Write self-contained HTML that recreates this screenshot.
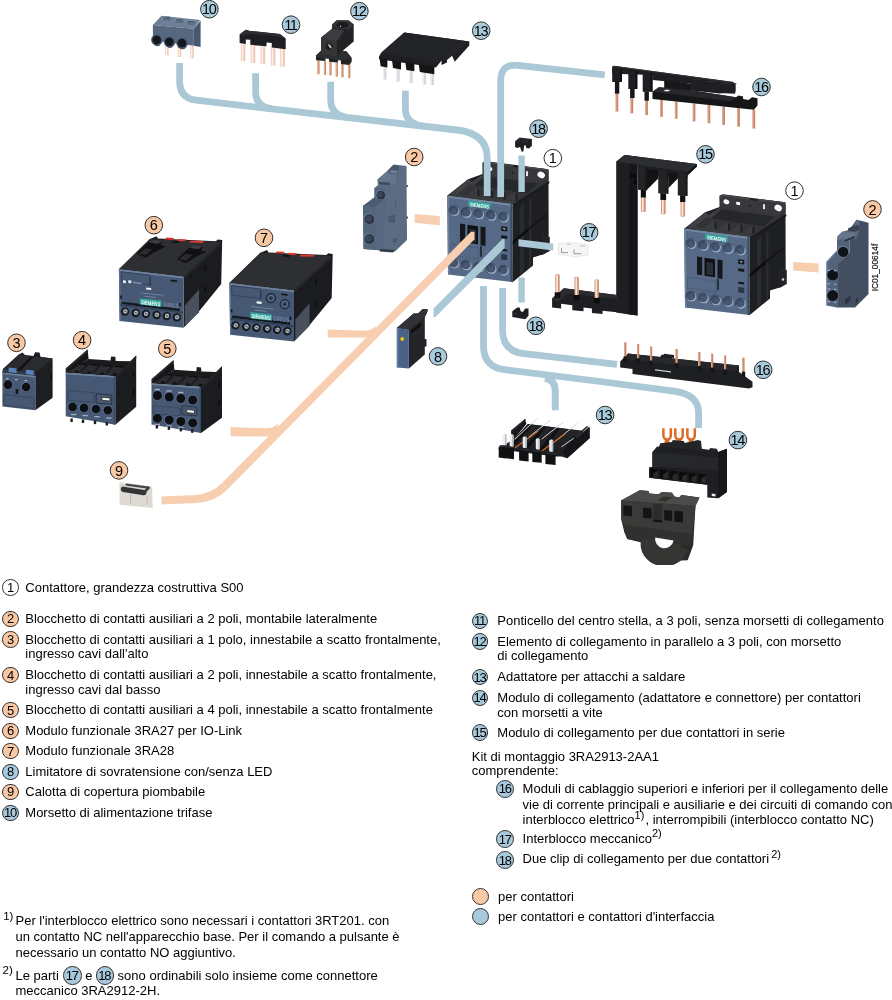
<!DOCTYPE html>
<html><head><meta charset="utf-8"><title>Contattori SIRIUS - accessori</title>
<style>
html,body{margin:0;padding:0;background:#fff;overflow:hidden;}
body{width:892px;height:1000px;position:relative;overflow:hidden;font-family:"Liberation Sans",sans-serif;color:#000;}
.t{position:absolute;white-space:nowrap;line-height:15px;}
.c{position:absolute;box-sizing:border-box;border:1px solid #333;border-radius:50%;text-align:center;white-space:nowrap;color:#000;}
.c{line-height:1 !important;display:flex;align-items:center;justify-content:center;}
.s{font-size:11px;position:relative;top:-5.5px;line-height:0;}
svg{position:absolute;left:0;top:0;}
#w{position:absolute;left:0;top:0;width:892px;height:1000px;will-change:transform;}
</style></head><body><div id="w">
<svg width="892" height="565" viewBox="0 0 892 565" font-family="Liberation Sans, sans-serif">
<g transform="translate(-237,-33)">
<polygon points="684.2,228.7 705.2,212.2 719.5,207.0 719.5,195.5 723.0,194.2 785.5,202.3 785.7,283.8 781.2,287.1 770.0,290.5 770.0,298.4 749.2,315.5 749.5,237.0" fill="#1e1f22" />
<polygon points="684.7,228.7 705.6,211.9 708.9,214.9 720.4,207.2 774.8,215.3 786.3,213.9 751.3,236.8" fill="#333437" />
<polygon points="711.6,218.6 721.7,209.5 774.2,216.5 764.1,226.4" fill="#26272a" />
<polygon points="684.7,228.7 705.6,211.9 708.9,214.9 720.4,207.2 720.4,209.5 710.3,218.2 706.9,216.9 690.8,229.8" fill="#404145" />
<polygon points="704.9,228.1 712.7,221.1 714.6,221.6 714.6,229.1" fill="#3b3c40" />
<polygon points="714.6,221.6 716.3,222.7 716.3,229.4 714.6,229.1" fill="#1b1c1e" />
<polygon points="718.3,229.7 726.1,222.7 728.0,223.2 728.0,230.7" fill="#3b3c40" />
<polygon points="728.0,223.2 729.8,224.3 729.8,231.0 728.0,230.7" fill="#1b1c1e" />
<polygon points="730.9,231.1 738.7,224.1 740.5,224.7 740.5,232.2" fill="#3b3c40" />
<polygon points="740.5,224.7 742.3,225.8 742.3,232.5 740.5,232.2" fill="#1b1c1e" />
<polygon points="743.0,232.6 750.8,225.6 752.6,226.2 752.6,233.7" fill="#3b3c40" />
<polygon points="752.6,226.2 754.4,227.2 754.4,234.0 752.6,233.7" fill="#1b1c1e" />
<polygon points="719.7,197.1 723.1,194.7 750.0,198.2 750.6,200.1 757.4,200.9 758.0,199.1 784.3,202.2 785.6,204.5 785.6,213.5 774.2,216.2 720.4,208.1" fill="#37383b" />
<polygon points="719.7,197.1 723.1,194.7 750.0,198.2 749.7,199.3 723.3,196.0 720.8,197.9" fill="#4a4b4f" />
<polygon points="758.0,199.1 784.3,202.2 785.6,204.5 784.4,203.8 783.6,203.3 758.3,200.2" fill="#4a4b4f" />
<ellipse cx="726.4" cy="201.8" rx="3.0" ry="2.3" fill="#fff" transform="rotate(25 726.4 201.8)"/>
<polygon points="736.2,201.7 740.0,202.2 740.0,205.2 736.2,204.6" fill="#fff" />
<circle cx="750.0" cy="206.1" r="0.8" fill="#111" />
<polygon points="763.1,204.1 765.0,204.4 765.0,209.2 763.1,208.9" fill="#f0f0f0" />
<ellipse cx="778.2" cy="207.9" rx="3.9" ry="3.1" fill="#fff" transform="rotate(30 778.2 207.9)"/>
<polygon points="751.3,236.8 786.3,213.9 786.3,216.2 751.3,239.1" fill="#1a1b1d" />
<polygon points="757.0,240.0 761.0,236.5 761.0,304.0 757.0,308.0" fill="#2a2b2e" />
<polygon points="766.0,233.0 768.5,231.0 768.5,298.0 766.0,300.5" fill="#2a2b2e" />
<polygon points="749.5,274.0 765.5,260.5 765.5,264.0 749.5,277.5" fill="#0c0d0e" />
<polygon points="765.5,260.5 785.0,246.0 785.0,248.0 765.5,263.0" fill="#141517" />
<polygon points="779.0,268.0 786.8,270.0 786.8,284.0 779.0,288.0" fill="#232426" />
<circle cx="783.0" cy="279.5" r="1.2" fill="#ddd" />
<polygon points="684.2,228.7 749.5,237.0 749.2,315.0 685.0,307.5" fill="#566987" />
<polygon points="684.2,228.7 749.5,237.0 753.5,234.3 688.5,226.0" fill="#393b40" />
<polygon points="684.2,228.7 749.5,237.0 749.5,239.0 684.2,230.6" fill="#7389a3" />
<polygon points="684.2,228.7 686.0,229.0 686.7,307.7 685.0,307.5" fill="#6a7f99" />
<polygon points="747.6,236.8 749.5,237.0 749.2,315.0 747.4,314.6" fill="#3b4a5f" />
<polygon points="705.2,233.6 727.7,236.4 727.7,241.8 705.2,239.0" fill="#36a79d" />
<text x="716.5" y="240.6" font-size="5.4" font-weight="bold" fill="#f2fbfa" text-anchor="middle" transform="rotate(7.2 716.5 239)" textLength="19.5" lengthAdjust="spacingAndGlyphs">SIEMENS</text>
<circle cx="691.0" cy="243.7" r="5.5" fill="#34415a" />
<circle cx="691.5" cy="244.2" r="5.0" fill="#93a7c2" />
<circle cx="690.8" cy="243.3" r="4.4" fill="#3c4a64" />
<circle cx="691.3" cy="244.2" r="3.0" fill="#475772" />
<circle cx="703.3" cy="245.5" r="5.5" fill="#34415a" />
<circle cx="703.8" cy="246.1" r="5.0" fill="#93a7c2" />
<circle cx="703.0" cy="245.2" r="4.4" fill="#3c4a64" />
<circle cx="703.6" cy="246.0" r="3.0" fill="#475772" />
<circle cx="715.7" cy="247.0" r="5.5" fill="#34415a" />
<circle cx="716.2" cy="247.6" r="5.0" fill="#93a7c2" />
<circle cx="715.5" cy="246.7" r="4.4" fill="#3c4a64" />
<circle cx="716.0" cy="247.5" r="3.0" fill="#475772" />
<circle cx="728.2" cy="248.5" r="5.5" fill="#34415a" />
<circle cx="728.7" cy="249.1" r="5.0" fill="#93a7c2" />
<circle cx="728.0" cy="248.2" r="4.4" fill="#3c4a64" />
<circle cx="728.5" cy="249.0" r="3.0" fill="#475772" />
<circle cx="740.5" cy="250.2" r="5.5" fill="#34415a" />
<circle cx="741.0" cy="250.8" r="5.0" fill="#93a7c2" />
<circle cx="740.2" cy="249.8" r="4.4" fill="#3c4a64" />
<circle cx="740.8" cy="250.7" r="3.0" fill="#475772" />
<circle cx="691.0" cy="296.2" r="5.5" fill="#34415a" />
<circle cx="691.5" cy="296.8" r="5.0" fill="#93a7c2" />
<circle cx="690.8" cy="295.8" r="4.4" fill="#3c4a64" />
<circle cx="691.3" cy="296.7" r="3.0" fill="#475772" />
<circle cx="703.3" cy="298.0" r="5.5" fill="#34415a" />
<circle cx="703.8" cy="298.6" r="5.0" fill="#93a7c2" />
<circle cx="703.0" cy="297.6" r="4.4" fill="#3c4a64" />
<circle cx="703.6" cy="298.5" r="3.0" fill="#475772" />
<circle cx="715.7" cy="300.0" r="5.5" fill="#34415a" />
<circle cx="716.2" cy="300.6" r="5.0" fill="#93a7c2" />
<circle cx="715.5" cy="299.6" r="4.4" fill="#3c4a64" />
<circle cx="716.0" cy="300.5" r="3.0" fill="#475772" />
<circle cx="728.2" cy="301.5" r="5.5" fill="#34415a" />
<circle cx="728.7" cy="302.1" r="5.0" fill="#93a7c2" />
<circle cx="728.0" cy="301.1" r="4.4" fill="#3c4a64" />
<circle cx="728.5" cy="302.0" r="3.0" fill="#475772" />
<circle cx="740.5" cy="303.3" r="5.5" fill="#34415a" />
<circle cx="741.0" cy="303.9" r="5.0" fill="#93a7c2" />
<circle cx="740.2" cy="302.9" r="4.4" fill="#3c4a64" />
<circle cx="740.8" cy="303.8" r="3.0" fill="#475772" />
<polygon points="697.0,256.6 702.2,257.3 702.2,275.3 697.0,274.6" fill="#15171a" />
<polygon points="704.5,257.8 715.0,259.2 715.0,277.2 704.5,275.8" fill="#0f1012" />
<polygon points="706.5,262.0 713.0,262.9 713.0,275.5 706.5,274.6" fill="#2a2f36" />
<polygon points="717.5,259.5 722.5,260.2 722.5,279.0 717.5,278.3" fill="#15171a" />
<polygon points="717.0,279.0 719.0,279.3 719.0,290.0 717.0,289.7" fill="#25303d" />
<polygon points="687.5,277.0 716.0,281.0 716.0,292.0 687.5,288.0" fill="none" stroke="#47586e" stroke-width="0.7"/>
<polygon points="738.2,259.3 744.2,260.1 744.2,264.6 738.2,263.8" fill="#15171a" />
<polygon points="739.4,260.8 743.0,261.3 741.2,263.6" fill="#8296ae" />
<polygon points="738.2,268.3 744.2,269.1 744.2,271.9 738.2,271.1" fill="#15171a" />
<polygon points="738.2,281.6 744.2,282.4 744.2,284.6 738.2,283.8" fill="#15171a" />
<polygon points="738.2,287.0 744.2,287.8 744.2,293.2 738.2,292.4" fill="#2a3646" />
</g>
<path d="M179.6,63 V81 Q179.6,98.3 196,100.2 L457,130 Q487.2,133.5 487.2,158 V196" fill="none" stroke="#aac8d5" stroke-width="6.8" />
<path d="M255.6,73.3 V92 Q255.6,106.3 272,108.9" fill="none" stroke="#aac8d5" stroke-width="6.8" />
<path d="M330.7,81.7 V100 Q330.7,114.5 347,117.4" fill="none" stroke="#aac8d5" stroke-width="6.8" />
<path d="M405.4,90.7 V109 Q405.4,123 422,126" fill="none" stroke="#aac8d5" stroke-width="6.8" />
<path d="M604.8,74.8 L518,65.3 Q500.7,63.4 500.7,81 V197" fill="none" stroke="#aac8d5" stroke-width="6.8" />
<path d="M521.6,155.5 V192" fill="none" stroke="#aac8d5" stroke-width="6.4" />
<path d="M502.6,288 V330 Q502.6,351.3 524,353.6 L617,364.4" fill="none" stroke="#aac8d5" stroke-width="6.8" />
<path d="M483.5,286 V346 Q483.5,367.6 506,369.9 L600,381.5 L674,391.2 Q698.6,394.5 698.6,413 V428" fill="none" stroke="#aac8d5" stroke-width="6.8" />
<path d="M555.3,410.3 V392 Q555.5,380 545,378" fill="none" stroke="#aac8d5" stroke-width="7.0" />
<path d="M521.6,277.5 V302.5" fill="none" stroke="#aac8d5" stroke-width="6.4" />
<polygon points="518.5,239.2 553.2,243.6 553.2,250.4 518.5,246.2" fill="#aac8d5" />
<polygon points="414.6,214.0 439.9,216.0 439.9,225.3 414.6,222.8" fill="#f8ceb0" />
<polygon points="793.2,262.0 818.6,263.6 818.6,272.6 793.2,270.6" fill="#f8ceb0" />
<polygon points="327.7,329.6 372.0,331.0 376.0,337.6 327.7,337.6" fill="#f8ceb0" />
<polygon points="230.6,427.0 274.0,428.5 278.0,436.5 230.6,436.3" fill="#f8ceb0" />
<path d="M364,330.7 Q371.5,331 376,325.5 L374,334 Z" fill="#f8ceb0"/>
<path d="M266,428.2 Q273.5,428.6 278.5,423 L276,432 Z" fill="#f8ceb0"/>
<g transform="translate(0,0)">
<polygon points="684.2,228.7 705.2,212.2 719.5,207.0 719.5,195.5 723.0,194.2 785.5,202.3 785.7,283.8 781.2,287.1 770.0,290.5 770.0,298.4 749.2,315.5 749.5,237.0" fill="#1e1f22" />
<polygon points="684.7,228.7 705.6,211.9 708.9,214.9 720.4,207.2 774.8,215.3 786.3,213.9 751.3,236.8" fill="#333437" />
<polygon points="711.6,218.6 721.7,209.5 774.2,216.5 764.1,226.4" fill="#26272a" />
<polygon points="684.7,228.7 705.6,211.9 708.9,214.9 720.4,207.2 720.4,209.5 710.3,218.2 706.9,216.9 690.8,229.8" fill="#404145" />
<polygon points="704.9,228.1 712.7,221.1 714.6,221.6 714.6,229.1" fill="#3b3c40" />
<polygon points="714.6,221.6 716.3,222.7 716.3,229.4 714.6,229.1" fill="#1b1c1e" />
<polygon points="718.3,229.7 726.1,222.7 728.0,223.2 728.0,230.7" fill="#3b3c40" />
<polygon points="728.0,223.2 729.8,224.3 729.8,231.0 728.0,230.7" fill="#1b1c1e" />
<polygon points="730.9,231.1 738.7,224.1 740.5,224.7 740.5,232.2" fill="#3b3c40" />
<polygon points="740.5,224.7 742.3,225.8 742.3,232.5 740.5,232.2" fill="#1b1c1e" />
<polygon points="743.0,232.6 750.8,225.6 752.6,226.2 752.6,233.7" fill="#3b3c40" />
<polygon points="752.6,226.2 754.4,227.2 754.4,234.0 752.6,233.7" fill="#1b1c1e" />
<polygon points="719.7,197.1 723.1,194.7 750.0,198.2 750.6,200.1 757.4,200.9 758.0,199.1 784.3,202.2 785.6,204.5 785.6,213.5 774.2,216.2 720.4,208.1" fill="#37383b" />
<polygon points="719.7,197.1 723.1,194.7 750.0,198.2 749.7,199.3 723.3,196.0 720.8,197.9" fill="#4a4b4f" />
<polygon points="758.0,199.1 784.3,202.2 785.6,204.5 784.4,203.8 783.6,203.3 758.3,200.2" fill="#4a4b4f" />
<ellipse cx="726.4" cy="201.8" rx="3.0" ry="2.3" fill="#fff" transform="rotate(25 726.4 201.8)"/>
<polygon points="736.2,201.7 740.0,202.2 740.0,205.2 736.2,204.6" fill="#fff" />
<circle cx="750.0" cy="206.1" r="0.8" fill="#111" />
<polygon points="763.1,204.1 765.0,204.4 765.0,209.2 763.1,208.9" fill="#f0f0f0" />
<ellipse cx="778.2" cy="207.9" rx="3.9" ry="3.1" fill="#fff" transform="rotate(30 778.2 207.9)"/>
<polygon points="751.3,236.8 786.3,213.9 786.3,216.2 751.3,239.1" fill="#1a1b1d" />
<polygon points="757.0,240.0 761.0,236.5 761.0,304.0 757.0,308.0" fill="#2a2b2e" />
<polygon points="766.0,233.0 768.5,231.0 768.5,298.0 766.0,300.5" fill="#2a2b2e" />
<polygon points="749.5,274.0 765.5,260.5 765.5,264.0 749.5,277.5" fill="#0c0d0e" />
<polygon points="765.5,260.5 785.0,246.0 785.0,248.0 765.5,263.0" fill="#141517" />
<polygon points="779.0,268.0 786.8,270.0 786.8,284.0 779.0,288.0" fill="#232426" />
<circle cx="783.0" cy="279.5" r="1.2" fill="#ddd" />
<polygon points="684.2,228.7 749.5,237.0 749.2,315.0 685.0,307.5" fill="#566987" />
<polygon points="684.2,228.7 749.5,237.0 753.5,234.3 688.5,226.0" fill="#393b40" />
<polygon points="684.2,228.7 749.5,237.0 749.5,239.0 684.2,230.6" fill="#7389a3" />
<polygon points="684.2,228.7 686.0,229.0 686.7,307.7 685.0,307.5" fill="#6a7f99" />
<polygon points="747.6,236.8 749.5,237.0 749.2,315.0 747.4,314.6" fill="#3b4a5f" />
<polygon points="705.2,233.6 727.7,236.4 727.7,241.8 705.2,239.0" fill="#36a79d" />
<text x="716.5" y="240.6" font-size="5.4" font-weight="bold" fill="#f2fbfa" text-anchor="middle" transform="rotate(7.2 716.5 239)" textLength="19.5" lengthAdjust="spacingAndGlyphs">SIEMENS</text>
<circle cx="691.0" cy="243.7" r="5.5" fill="#34415a" />
<circle cx="691.5" cy="244.2" r="5.0" fill="#93a7c2" />
<circle cx="690.8" cy="243.3" r="4.4" fill="#3c4a64" />
<circle cx="691.3" cy="244.2" r="3.0" fill="#475772" />
<circle cx="703.3" cy="245.5" r="5.5" fill="#34415a" />
<circle cx="703.8" cy="246.1" r="5.0" fill="#93a7c2" />
<circle cx="703.0" cy="245.2" r="4.4" fill="#3c4a64" />
<circle cx="703.6" cy="246.0" r="3.0" fill="#475772" />
<circle cx="715.7" cy="247.0" r="5.5" fill="#34415a" />
<circle cx="716.2" cy="247.6" r="5.0" fill="#93a7c2" />
<circle cx="715.5" cy="246.7" r="4.4" fill="#3c4a64" />
<circle cx="716.0" cy="247.5" r="3.0" fill="#475772" />
<circle cx="728.2" cy="248.5" r="5.5" fill="#34415a" />
<circle cx="728.7" cy="249.1" r="5.0" fill="#93a7c2" />
<circle cx="728.0" cy="248.2" r="4.4" fill="#3c4a64" />
<circle cx="728.5" cy="249.0" r="3.0" fill="#475772" />
<circle cx="740.5" cy="250.2" r="5.5" fill="#34415a" />
<circle cx="741.0" cy="250.8" r="5.0" fill="#93a7c2" />
<circle cx="740.2" cy="249.8" r="4.4" fill="#3c4a64" />
<circle cx="740.8" cy="250.7" r="3.0" fill="#475772" />
<circle cx="691.0" cy="296.2" r="5.5" fill="#34415a" />
<circle cx="691.5" cy="296.8" r="5.0" fill="#93a7c2" />
<circle cx="690.8" cy="295.8" r="4.4" fill="#3c4a64" />
<circle cx="691.3" cy="296.7" r="3.0" fill="#475772" />
<circle cx="703.3" cy="298.0" r="5.5" fill="#34415a" />
<circle cx="703.8" cy="298.6" r="5.0" fill="#93a7c2" />
<circle cx="703.0" cy="297.6" r="4.4" fill="#3c4a64" />
<circle cx="703.6" cy="298.5" r="3.0" fill="#475772" />
<circle cx="715.7" cy="300.0" r="5.5" fill="#34415a" />
<circle cx="716.2" cy="300.6" r="5.0" fill="#93a7c2" />
<circle cx="715.5" cy="299.6" r="4.4" fill="#3c4a64" />
<circle cx="716.0" cy="300.5" r="3.0" fill="#475772" />
<circle cx="728.2" cy="301.5" r="5.5" fill="#34415a" />
<circle cx="728.7" cy="302.1" r="5.0" fill="#93a7c2" />
<circle cx="728.0" cy="301.1" r="4.4" fill="#3c4a64" />
<circle cx="728.5" cy="302.0" r="3.0" fill="#475772" />
<circle cx="740.5" cy="303.3" r="5.5" fill="#34415a" />
<circle cx="741.0" cy="303.9" r="5.0" fill="#93a7c2" />
<circle cx="740.2" cy="302.9" r="4.4" fill="#3c4a64" />
<circle cx="740.8" cy="303.8" r="3.0" fill="#475772" />
<polygon points="697.0,256.6 702.2,257.3 702.2,275.3 697.0,274.6" fill="#15171a" />
<polygon points="704.5,257.8 715.0,259.2 715.0,277.2 704.5,275.8" fill="#0f1012" />
<polygon points="706.5,262.0 713.0,262.9 713.0,275.5 706.5,274.6" fill="#2a2f36" />
<polygon points="717.5,259.5 722.5,260.2 722.5,279.0 717.5,278.3" fill="#15171a" />
<polygon points="717.0,279.0 719.0,279.3 719.0,290.0 717.0,289.7" fill="#25303d" />
<polygon points="687.5,277.0 716.0,281.0 716.0,292.0 687.5,288.0" fill="none" stroke="#47586e" stroke-width="0.7"/>
<polygon points="738.2,259.3 744.2,260.1 744.2,264.6 738.2,263.8" fill="#15171a" />
<polygon points="739.4,260.8 743.0,261.3 741.2,263.6" fill="#8296ae" />
<polygon points="738.2,268.3 744.2,269.1 744.2,271.9 738.2,271.1" fill="#15171a" />
<polygon points="738.2,281.6 744.2,282.4 744.2,284.6 738.2,283.8" fill="#15171a" />
<polygon points="738.2,287.0 744.2,287.8 744.2,293.2 738.2,292.4" fill="#2a3646" />
</g>
<polygon points="471.0,231.8 474.5,231.8 474.5,239.3 227.9,488.9 222.1,483.1" fill="#f8ceb0" />
<path d="M225,486 Q213,498 196,499 L161.6,500.5" fill="none" stroke="#f8ceb0" stroke-width="8.2" />
<polygon points="502.4,239.1 504.6,239.1 504.6,248.0 435.1,317.2 433.5,317.2 433.5,308.6" fill="#aac8d5" />
<rect x="165.1" y="46.0" width="3.6" height="9.2" fill="#f1cbb9" />
<rect x="165.9" y="46.0" width="1.2" height="9.2" fill="#fdf1ea" />
<rect x="177.7" y="47.0" width="3.6" height="10.0" fill="#f1cbb9" />
<rect x="178.5" y="47.0" width="1.2" height="10.0" fill="#fdf1ea" />
<rect x="190.2" y="46.0" width="3.6" height="12.3" fill="#f1cbb9" />
<rect x="191.0" y="46.0" width="1.2" height="12.3" fill="#fdf1ea" />
<polygon points="152.9,25.1 161.5,15.8 200.1,20.1 193.8,28.7" fill="#6d7e96" />
<polygon points="152.9,25.1 193.8,28.7 193.8,45.7 152.9,40.4" fill="#566880" />
<polygon points="193.8,28.7 200.6,20.6 200.6,47.0 193.8,45.7" fill="#465770" />
<ellipse cx="166.9" cy="18.8" rx="5.2" ry="2.8" fill="#7f90a8" />
<ellipse cx="166.9" cy="19.1" rx="4.1" ry="2.0" fill="#4a5a72" />
<ellipse cx="166.9" cy="19.7" rx="3.3" ry="1.3" fill="#5f7089" />
<ellipse cx="179.5" cy="20.6" rx="5.2" ry="2.8" fill="#7f90a8" />
<ellipse cx="179.5" cy="20.9" rx="4.1" ry="2.0" fill="#4a5a72" />
<ellipse cx="179.5" cy="21.5" rx="3.3" ry="1.3" fill="#5f7089" />
<ellipse cx="191.1" cy="22.4" rx="5.2" ry="2.8" fill="#7f90a8" />
<ellipse cx="191.1" cy="22.7" rx="4.1" ry="2.0" fill="#4a5a72" />
<ellipse cx="191.1" cy="23.3" rx="3.3" ry="1.3" fill="#5f7089" />
<circle cx="157.0" cy="39.8" r="5.9" fill="#4e5f78" />
<circle cx="156.7" cy="40.0" r="4.4" fill="#14171c" />
<path d="M153.0,41.3 a4.4,4.4 0 0 0 7,3.5" fill="none" stroke="#3b4657" stroke-width="1.0" />
<circle cx="169.6" cy="41.6" r="5.9" fill="#4e5f78" />
<circle cx="169.3" cy="41.8" r="4.4" fill="#14171c" />
<path d="M165.6,43.1 a4.4,4.4 0 0 0 7,3.5" fill="none" stroke="#3b4657" stroke-width="1.0" />
<circle cx="182.2" cy="43.0" r="5.9" fill="#4e5f78" />
<circle cx="181.9" cy="43.2" r="4.4" fill="#14171c" />
<path d="M178.2,44.5 a4.4,4.4 0 0 0 7,3.5" fill="none" stroke="#3b4657" stroke-width="1.0" />
<circle cx="209.4" cy="9.2" r="8.8" fill="#a8cadb" stroke="#2e2e2e" stroke-width="1"/>
<text x="208.8" y="14.3" font-size="14.5" text-anchor="middle" letter-spacing="-1.3">10</text>
<rect x="240.8" y="42.0" width="4.6" height="19.0" fill="#efc7b5" />
<rect x="241.7" y="42.0" width="1.7" height="19.0" fill="#fdf1eb" />
<rect x="250.7" y="44.0" width="4.6" height="18.8" fill="#efc7b5" />
<rect x="251.6" y="44.0" width="1.7" height="18.8" fill="#fdf1eb" />
<rect x="260.6" y="45.0" width="4.6" height="18.7" fill="#efc7b5" />
<rect x="261.5" y="45.0" width="1.7" height="18.7" fill="#fdf1eb" />
<rect x="270.8" y="46.0" width="4.6" height="19.5" fill="#efc7b5" />
<rect x="271.7" y="46.0" width="1.7" height="19.5" fill="#fdf1eb" />
<rect x="280.3" y="47.0" width="4.6" height="19.7" fill="#efc7b5" />
<rect x="281.2" y="47.0" width="1.7" height="19.7" fill="#fdf1eb" />
<polygon points="239.6,34.4 245.8,29.8 249.8,30.9 279.9,34.1 285.7,38.6 285.7,49.3 271.8,47.5 271.8,43.0 266.5,42.5 266.5,46.3 250.3,44.8 250.3,39.8 245.8,39.5 245.8,43.9 239.6,43.0" fill="#1e1f22" />
<polygon points="239.6,34.4 245.8,29.8 249.8,30.9 279.9,34.1 285.7,38.6 278.0,36.5 249.0,33.5 243.0,36.0" fill="#2d2e31" />
<circle cx="291.0" cy="24.7" r="8.8" fill="#a8cadb" stroke="#2e2e2e" stroke-width="1"/>
<text x="290.4" y="29.8" font-size="14.5" text-anchor="middle" letter-spacing="-1.3">11</text>
<rect x="317.4" y="60.2" width="2.2" height="14.1" fill="#c78967" rx="0.8"/>
<rect x="317.6" y="60.2" width="0.8" height="13.6" fill="#e6b79c" />
<rect x="323.9" y="60.2" width="2.2" height="14.9" fill="#c78967" rx="0.8"/>
<rect x="324.1" y="60.2" width="0.8" height="14.4" fill="#e6b79c" />
<rect x="329.4" y="60.2" width="2.2" height="15.3" fill="#c78967" rx="0.8"/>
<rect x="329.6" y="60.2" width="0.8" height="14.8" fill="#e6b79c" />
<rect x="335.7" y="60.2" width="2.2" height="16.5" fill="#c78967" rx="0.8"/>
<rect x="335.9" y="60.2" width="0.8" height="16.0" fill="#e6b79c" />
<rect x="341.4" y="60.2" width="2.2" height="17.3" fill="#c78967" rx="0.8"/>
<rect x="341.6" y="60.2" width="0.8" height="16.8" fill="#e6b79c" />
<rect x="348.2" y="60.2" width="2.2" height="18.0" fill="#c78967" rx="0.8"/>
<rect x="348.4" y="60.2" width="0.8" height="17.5" fill="#e6b79c" />
<polygon points="332.1,24.5 336.8,20.2 348.9,20.6 353.7,24.5 353.7,41.4 342.7,50.8 346.6,51.6 351.7,57.9 351.7,61.8 348.9,64.9 341.1,64.1 340.7,60.2 338.0,60.2 337.6,62.6 329.3,61.8 328.9,58.7 325.8,58.3 325.0,61.0 316.0,60.2 316.0,55.5 321.1,50.8 321.1,37.5 332.1,28.8" fill="#222325" />
<polygon points="321.1,37.5 332.1,28.8 344.2,30.6 336.8,41.4" fill="#3b3c3f" />
<polygon points="321.1,37.5 336.8,41.4 336.8,57.1 321.1,53.9" fill="#343537" />
<polygon points="316.0,55.5 321.1,50.8 321.1,53.9 336.8,57.1 342.7,50.8 346.6,51.6 351.7,57.9 341.1,60.2 316.0,57.1" fill="#2e2f31" />
<polygon points="332.1,24.5 336.8,20.2 348.9,20.6 353.7,24.5 348.9,29.2 336.4,28.8" fill="#343538" />
<ellipse cx="342.7" cy="24.9" rx="6.2" ry="3.1" fill="#1a1b1c" />
<circle cx="340.5" cy="26.2" r="0.7" fill="#cfcfcf" />
<circle cx="329.3" cy="46.5" r="3.6" fill="#1c1d1e" />
<path d="M328.1,44.1 q3.2,0.6 3.6,4.4 q-3.2,-0.6 -3.6,-4.4z" fill="#c9cacc"/>
<circle cx="359.4" cy="11.2" r="8.8" fill="#a8cadb" stroke="#2e2e2e" stroke-width="1"/>
<text x="358.8" y="16.3" font-size="14.5" text-anchor="middle" letter-spacing="-1.3">12</text>
<rect x="383.1" y="66.0" width="3.4" height="13.6" fill="#d6d7dc" />
<rect x="383.1" y="66.0" width="1.1" height="13.6" fill="#f1f1f4" />
<rect x="396.3" y="66.0" width="3.4" height="15.5" fill="#d6d7dc" />
<rect x="396.3" y="66.0" width="1.1" height="15.5" fill="#f1f1f4" />
<rect x="409.3" y="66.0" width="3.4" height="17.0" fill="#d6d7dc" />
<rect x="409.3" y="66.0" width="1.1" height="17.0" fill="#f1f1f4" />
<rect x="422.7" y="66.0" width="3.4" height="18.5" fill="#d6d7dc" />
<rect x="422.7" y="66.0" width="1.1" height="18.5" fill="#f1f1f4" />
<rect x="430.6" y="66.0" width="3.4" height="19.0" fill="#d6d7dc" />
<rect x="430.6" y="66.0" width="1.1" height="19.0" fill="#f1f1f4" />
<polygon points="381.2,52.7 404.3,32.5 469.3,41.5 469.3,45.5 454.7,61.7 452.0,55.5 447.0,57.5 447.0,62.5 441.5,65.0 441.5,60.5 436.0,67.5 379.0,59.3 379.0,56.5" fill="#1e1f22" />
<polygon points="381.2,52.7 404.3,32.5 469.3,41.5 447.0,60.0 434.5,62.0" fill="#232427" />
<polygon points="379.6,58.5 387.4,59.6 387.4,67.4 380.6,66.3" fill="#131416" />
<polygon points="392.0,60.3 401.0,61.6 401.0,69.4 393.0,68.1" fill="#131416" />
<polygon points="405.4,62.2 414.4,63.5 414.4,71.3 406.4,70.0" fill="#131416" />
<polygon points="418.8,64.2 434.3,66.4 434.3,74.2 419.8,72.0" fill="#131416" />
<circle cx="481.2" cy="30.7" r="8.8" fill="#a8cadb" stroke="#2e2e2e" stroke-width="1"/>
<text x="480.6" y="35.8" font-size="14.5" text-anchor="middle" letter-spacing="-1.3">13</text>
<rect x="615.7" y="93.0" width="2.6" height="18.5" fill="#c8866a" />
<rect x="615.7" y="93.0" width="0.9" height="18.5" fill="#e3ad93" />
<rect x="630.6" y="97.0" width="2.6" height="16.3" fill="#c8866a" />
<rect x="630.6" y="97.0" width="0.9" height="16.3" fill="#e3ad93" />
<rect x="645.3" y="100.0" width="2.6" height="15.1" fill="#c8866a" />
<rect x="645.3" y="100.0" width="0.9" height="15.1" fill="#e3ad93" />
<rect x="660.2" y="100.0" width="2.6" height="16.9" fill="#c8866a" />
<rect x="660.2" y="100.0" width="0.9" height="16.9" fill="#e3ad93" />
<rect x="674.9" y="101.5" width="2.6" height="17.2" fill="#c8866a" />
<rect x="674.9" y="101.5" width="0.9" height="17.2" fill="#e3ad93" />
<rect x="692.8" y="103.4" width="2.6" height="18.0" fill="#c8866a" />
<rect x="692.8" y="103.4" width="0.9" height="18.0" fill="#e3ad93" />
<rect x="707.7" y="105.0" width="2.6" height="18.2" fill="#c8866a" />
<rect x="707.7" y="105.0" width="0.9" height="18.2" fill="#e3ad93" />
<rect x="722.4" y="106.5" width="2.6" height="18.5" fill="#c8866a" />
<rect x="722.4" y="106.5" width="0.9" height="18.5" fill="#e3ad93" />
<rect x="737.3" y="108.1" width="2.6" height="18.6" fill="#c8866a" />
<rect x="737.3" y="108.1" width="0.9" height="18.6" fill="#e3ad93" />
<rect x="752.6" y="109.7" width="2.6" height="18.8" fill="#c8866a" />
<rect x="752.6" y="109.7" width="0.9" height="18.8" fill="#e3ad93" />
<polygon points="612.2,66.7 613.6,65.8 733.3,81.9 735.6,84.6 735.6,91.8 719.8,93.6 691.1,90.5 691.1,83.7 652.5,80.1 652.5,75.1 612.2,73.8" fill="#1e1f22" />
<polygon points="612.2,66.7 613.6,65.8 733.3,81.9 731.5,83.0" fill="#303135" />
<polygon points="612.2,67.6 622.0,68.8 622.0,81.9 612.2,81.9" fill="#1e1f22" />
<polygon points="614.9,81.5 619.3,81.5 619.3,93.6 614.9,93.6" fill="#151618" />
<polygon points="619.9,69.7 622.0,68.8 622.0,81.9 619.9,81.9" fill="#111214" />
<polygon points="628.3,69.7 637.3,70.8 637.3,89.1 628.3,89.1" fill="#1e1f22" />
<polygon points="630.1,88.7 634.6,88.7 634.6,98.0 630.1,98.0" fill="#151618" />
<polygon points="635.1,71.7 637.3,70.8 637.3,89.1 635.1,89.1" fill="#111214" />
<polygon points="642.7,71.5 652.5,72.8 652.5,91.8 642.7,91.8" fill="#1e1f22" />
<polygon points="644.5,91.4 648.9,91.4 648.9,100.7 644.5,100.7" fill="#151618" />
<polygon points="650.4,73.7 652.5,72.8 652.5,91.8 650.4,91.8" fill="#111214" />
<polygon points="664.2,80.1 691.1,83.7 691.1,90.9 664.2,88.2" fill="#17181a" />
<polygon points="691.1,79.8 698.6,80.7 698.6,90.2 691.1,89.4" fill="#1e1f22" />
<polygon points="691.1,79.8 693.3,78.3 700.4,79.2 698.6,80.7" fill="#2c2d30" />
<polygon points="705.4,81.9 713.0,82.8 713.0,92.0 705.4,91.2" fill="#1e1f22" />
<polygon points="705.4,81.9 707.6,80.5 714.8,81.4 713.0,82.8" fill="#2c2d30" />
<polygon points="719.8,83.7 735.2,84.6 735.2,93.7 719.8,93.0" fill="#1e1f22" />
<polygon points="719.8,83.7 722.0,82.3 737.0,83.2 735.2,84.6" fill="#2c2d30" />
<polygon points="652.5,91.8 658.8,87.3 691.1,90.2 735.9,97.3 738.6,95.5 743.1,96.4 743.1,99.1 748.5,100.0 752.1,97.3 757.5,98.2 757.5,105.4 753.9,109.7 652.5,99.1" fill="#151618" />
<polygon points="652.5,91.8 658.8,87.3 691.1,90.2 735.9,97.3 730.6,101.3" fill="#27282b" />
<polygon points="666.0,89.6 670.5,90.2 667.8,91.6 663.3,91.1" fill="#e9ebee" />
<circle cx="761.5" cy="87.0" r="8.8" fill="#a8cadb" stroke="#2e2e2e" stroke-width="1"/>
<text x="760.9" y="92.1" font-size="14.5" text-anchor="middle" letter-spacing="-1.3">16</text>
<polygon points="616.2,161.8 624.6,155.1 637.5,156.7 637.5,315.4 629.1,314.5 616.2,312.6" fill="#1e1f22" />
<polygon points="629.1,163.5 637.5,164.6 637.5,315.4 629.1,314.5" fill="#151618" />
<polygon points="616.2,161.8 624.6,155.1 696.9,164.1 696.9,166.5 687.4,175.5 687.4,178.6 638.0,174.4 637.5,164.6" fill="#1e1f22" />
<polygon points="616.2,161.8 624.6,155.1 696.9,164.1 687.4,171.7" fill="#2d2e31" />
<polygon points="687.4,171.7 696.9,164.1 696.9,166.5 687.4,175.5" fill="#161719" />
<polygon points="647.0,169.1 658.2,170.6 658.2,178.6 647.0,189.8 647.0,177.5" fill="#121314" />
<polygon points="668.3,171.9 677.8,173.3 677.8,178.6 668.3,188.2" fill="#121314" />
<polygon points="638.0,166.9 647.0,168.0 647.0,190.4 638.0,189.8" fill="#232426" />
<polygon points="645.4,167.8 647.0,168.0 647.0,190.4 645.4,190.3" fill="#17181a" />
<polygon points="640.8,189.7 645.9,190.2 645.9,197.7 640.8,197.7" fill="#0e0f10" />
<rect x="640.9" y="197.7" width="4.9" height="14.3" fill="#d3937a" rx="1"/>
<rect x="641.9" y="197.7" width="1.7" height="13.9" fill="#fbe9e0" />
<polygon points="658.2,169.9 668.3,171.0 668.3,193.8 658.2,193.2" fill="#232426" />
<polygon points="666.7,170.8 668.3,171.0 668.3,193.8 666.7,193.7" fill="#17181a" />
<polygon points="660.4,193.1 666.1,193.5 666.1,199.9 660.4,199.9" fill="#0e0f10" />
<rect x="661.0" y="199.9" width="4.7" height="14.3" fill="#d3937a" rx="1"/>
<rect x="662.0" y="199.9" width="1.7" height="13.9" fill="#fbe9e0" />
<polygon points="677.8,172.8 687.4,173.9 687.4,196.0 677.8,195.4" fill="#232426" />
<polygon points="685.8,173.7 687.4,173.9 687.4,196.0 685.8,195.9" fill="#17181a" />
<polygon points="680.1,195.3 685.3,195.8 685.3,202.2 680.1,202.2" fill="#0e0f10" />
<rect x="680.6" y="202.2" width="4.5" height="14.6" fill="#d3937a" rx="1"/>
<rect x="681.6" y="202.2" width="1.7" height="14.2" fill="#fbe9e0" />
<circle cx="635.2" cy="182.0" r="1.9" fill="#060606" />
<polygon points="630.2,173.6 636.9,174.4 636.9,178.6 630.2,177.8" fill="#0b0b0c" />
<polygon points="552.1,298.4 563.9,288.3 617.1,295.1 628.9,313.6 602.5,310.8 602.5,314.1 591.9,313.0 591.9,308.5 583.5,307.6 583.5,311.3 572.3,310.2 572.3,305.2 561.1,303.8 561.1,308.5 552.1,307.6" fill="#1e1f22" />
<polygon points="552.1,298.4 563.9,288.3 617.1,295.1 617.1,299.0 567.8,293.4 557.7,302.4" fill="#2b2c2f" />
<rect x="555.3" y="274.3" width="4.4" height="18.3" fill="#cf9175" rx="1.2"/>
<rect x="556.2" y="274.8" width="1.8" height="17.8" fill="#f8e3d8" />
<rect x="554.7" y="292.3" width="5.6" height="5.5" fill="#0c0d0e" />
<rect x="574.5" y="276.8" width="4.4" height="18.5" fill="#cf9175" rx="1.2"/>
<rect x="575.4" y="277.3" width="1.8" height="18.0" fill="#f8e3d8" />
<rect x="573.9" y="295.0" width="5.6" height="5.5" fill="#0c0d0e" />
<rect x="594.5" y="279.4" width="4.4" height="18.8" fill="#cf9175" rx="1.2"/>
<rect x="595.4" y="279.9" width="1.8" height="18.3" fill="#f8e3d8" />
<rect x="593.9" y="297.9" width="5.6" height="5.5" fill="#0c0d0e" />
<circle cx="705.5" cy="154.3" r="8.8" fill="#a8cadb" stroke="#2e2e2e" stroke-width="1"/>
<text x="704.9" y="159.4" font-size="14.5" text-anchor="middle" letter-spacing="-1.3">15</text>
<polygon points="558.5,243.5 571.0,242.4 587.9,245.0 587.9,255.0 576.0,256.8 558.5,254.5" fill="#f6f6f6" stroke="#dcdcdc" stroke-width="0.6"/>
<path d="M561.5,248 v4.6 h6.5 M574,249.2 v4.6 h7.5" fill="none" stroke="#8f9196" stroke-width="0.9" />
<path d="M567,244.3 h4 M580,246 h5.5" fill="none" stroke="#b9bbc0" stroke-width="0.9" />
<circle cx="589.1" cy="232.3" r="8.8" fill="#a8cadb" stroke="#2e2e2e" stroke-width="1"/>
<text x="588.5" y="237.4" font-size="14.5" text-anchor="middle" letter-spacing="-1.3">17</text>
<polygon points="515.1,141.3 519.6,137.4 531.9,139.1 531.9,145.8 529.1,148.6 526.3,148.1 525.7,145.3 524.1,145.8 523.5,150.9 521.8,152.0 520.1,147.0 517.3,148.1 515.1,147.0" fill="#1e1f22" />
<path d="M520.5,138.2 l-2.2,4 M524.3,138.7 l-2.2,4 M528.2,139.2 l-2.2,4" fill="none" stroke="#3d3e42" stroke-width="0.9" />
<circle cx="538.6" cy="128.7" r="8.8" fill="#a8cadb" stroke="#2e2e2e" stroke-width="1"/>
<text x="538.0" y="133.8" font-size="14.5" text-anchor="middle" letter-spacing="-1.3">18</text>
<polygon points="512.3,311.3 517.3,307.4 519.6,307.4 520.7,311.3 522.9,311.9 525.2,308.5 528.5,308.5 528.5,315.8 525.2,319.2 512.3,316.9" fill="#1e1f22" />
<circle cx="515.5" cy="313.5" r="0.8" fill="#444" />
<circle cx="535.9" cy="325.8" r="8.8" fill="#a8cadb" stroke="#2e2e2e" stroke-width="1"/>
<text x="535.3" y="330.9" font-size="14.5" text-anchor="middle" letter-spacing="-1.3">18</text>
<polygon points="620.2,361.5 628.0,353.6 660.0,357.0 662.0,354.5 672.0,355.5 672.0,358.5 739.0,365.5 739.0,372.0 752.5,381.7 752.5,387.3 749.0,388.5 632.5,374.0 632.5,369.0 620.2,367.5" fill="#1e1f22" />
<polygon points="628.0,353.6 739.0,365.5 733.0,371.0 624.0,359.0" fill="#27282b" />
<polygon points="655.0,369.2 671.0,371.2 671.0,372.4 655.0,370.4" fill="#c9ccd0" />
<polygon points="664.0,353.8 674.0,354.9 674.0,358.0 664.0,357.0" fill="#1e1f22" />
<rect x="624.2" y="342.4" width="2.2" height="15.0" fill="#c8866a" />
<rect x="624.2" y="342.4" width="0.8" height="15.0" fill="#e0a98f" />
<rect x="623.6" y="356.4" width="3.4" height="5.0" fill="#151618" />
<rect x="637.0" y="344.2" width="2.2" height="15.0" fill="#c8866a" />
<rect x="637.0" y="344.2" width="0.8" height="15.0" fill="#e0a98f" />
<rect x="636.4" y="358.2" width="3.4" height="5.0" fill="#151618" />
<rect x="650.0" y="346.5" width="2.2" height="15.0" fill="#c8866a" />
<rect x="650.0" y="346.5" width="0.8" height="15.0" fill="#e0a98f" />
<rect x="649.4" y="360.5" width="3.4" height="5.0" fill="#151618" />
<rect x="675.6" y="349.1" width="2.2" height="15.0" fill="#c8866a" />
<rect x="675.6" y="349.1" width="0.8" height="15.0" fill="#e0a98f" />
<rect x="675.0" y="363.1" width="3.4" height="5.0" fill="#151618" />
<rect x="698.2" y="352.0" width="2.2" height="15.0" fill="#c8866a" />
<rect x="698.2" y="352.0" width="0.8" height="15.0" fill="#e0a98f" />
<rect x="697.6" y="366.0" width="3.4" height="5.0" fill="#151618" />
<rect x="711.0" y="353.6" width="2.2" height="15.0" fill="#c8866a" />
<rect x="711.0" y="353.6" width="0.8" height="15.0" fill="#e0a98f" />
<rect x="710.4" y="367.6" width="3.4" height="5.0" fill="#151618" />
<rect x="724.0" y="355.4" width="2.2" height="15.0" fill="#c8866a" />
<rect x="724.0" y="355.4" width="0.8" height="15.0" fill="#e0a98f" />
<rect x="723.4" y="369.4" width="3.4" height="5.0" fill="#151618" />
<rect x="742.4" y="357.7" width="2.2" height="15.0" fill="#c8866a" />
<rect x="742.4" y="357.7" width="0.8" height="15.0" fill="#e0a98f" />
<rect x="741.8" y="371.7" width="3.4" height="5.0" fill="#151618" />
<circle cx="763.2" cy="369.8" r="8.8" fill="#a8cadb" stroke="#2e2e2e" stroke-width="1"/>
<text x="762.6" y="374.9" font-size="14.5" text-anchor="middle" letter-spacing="-1.3">16</text>
<polygon points="498.7,448.1 514.0,439.3 527.9,424.0 586.9,431.3 589.8,437.9 567.2,458.3 561.4,456.5 555.6,456.5 498.7,449.3" fill="#1e1f22" />
<polygon points="514.0,439.3 527.9,424.0 583.3,431.3 562.9,451.0" fill="#222326" />
<polygon points="528.6,425.6 531.8,426.0 514.8,444.6 511.4,443.9" fill="#0e0f10" />
<polygon points="542.5,427.4 545.7,427.8 528.6,447.4 525.3,446.6" fill="#0e0f10" />
<polygon points="556.3,429.2 559.5,429.6 542.5,450.1 539.1,449.4" fill="#0e0f10" />
<polygon points="511.1,430.6 525.0,418.9 526.4,424.0 514.0,439.3 511.1,438.2" fill="#18191b" />
<polygon points="511.1,430.6 525.0,418.9 526.1,419.7 512.6,431.5" fill="#2e2f32" />
<polygon points="574.5,436.4 586.9,426.2 589.8,427.7 589.8,437.9 567.2,458.3 562.9,451.0" fill="#151618" />
<polygon points="574.5,436.4 586.9,426.2 589.8,427.7 577.1,438.2" fill="#2c2d30" />
<path d="M561.4,446.9 L573.8,438.2" fill="none" stroke="#cfd1d4" stroke-width="1.0" />
<path d="M514.8,439.3 L537.4,418.2" fill="none" stroke="#d3d5d9" stroke-width="1.0" />
<path d="M528.6,437.2 L550.5,420.1" fill="none" stroke="#d3d5d9" stroke-width="1.0" />
<path d="M541.7,439.1 L563.6,421.9" fill="none" stroke="#d3d5d9" stroke-width="1.0" />
<path d="M555.6,441.1 L577.4,423.3" fill="none" stroke="#d3d5d9" stroke-width="1.0" />
<path d="M590.6,425.1 L583.3,431.3" fill="none" stroke="#c9ccd1" stroke-width="0.8" />
<path d="M514.8,448.1 L538.1,430.9" fill="none" stroke="#c8682a" stroke-width="1.3" />
<path d="M541.7,451.3 L565.8,433.2" fill="none" stroke="#c8682a" stroke-width="1.3" />
<polygon points="498.7,446.6 500.5,444.9 507.8,445.8 506.0,447.5" fill="#2a2b2e" />
<polygon points="498.7,446.6 506.0,447.5 506.0,458.4 498.7,457.6" fill="#111214" />
<polygon points="506.0,447.4 507.8,445.6 515.8,446.5 514.0,448.2" fill="#2a2b2e" />
<polygon points="506.0,447.4 514.0,448.2 514.0,459.2 506.0,458.3" fill="#111214" />
<polygon points="519.1,450.3 520.9,448.5 530.4,449.4 528.6,451.2" fill="#2a2b2e" />
<polygon points="519.1,450.3 528.6,451.2 528.6,461.4 519.1,460.5" fill="#111214" />
<polygon points="532.3,451.7 534.0,450.0 543.5,450.9 541.7,452.6" fill="#2a2b2e" />
<polygon points="532.3,451.7 541.7,452.6 541.7,462.8 532.3,461.9" fill="#111214" />
<polygon points="545.4,453.9 547.1,452.2 557.3,453.0 555.6,454.8" fill="#2a2b2e" />
<polygon points="545.4,453.9 555.6,454.8 555.6,465.0 545.4,464.1" fill="#111214" />
<rect x="502.6" y="433.5" width="4.0" height="11.7" fill="#eceef1" rx="1.5"/>
<rect x="505.1" y="434.5" width="1.4" height="10.7" fill="#b4b7be" />
<rect x="509.6" y="434.2" width="4.0" height="12.4" fill="#eceef1" rx="1.5"/>
<rect x="512.1" y="435.2" width="1.4" height="11.4" fill="#b4b7be" />
<rect x="522.7" y="436.4" width="4.0" height="11.7" fill="#eceef1" rx="1.5"/>
<rect x="525.2" y="437.4" width="1.4" height="10.7" fill="#b4b7be" />
<rect x="535.8" y="438.2" width="4.0" height="11.4" fill="#eceef1" rx="1.5"/>
<rect x="538.3" y="439.2" width="1.4" height="10.4" fill="#b4b7be" />
<rect x="549.2" y="439.6" width="4.0" height="12.1" fill="#eceef1" rx="1.5"/>
<rect x="551.7" y="440.6" width="1.4" height="11.1" fill="#b4b7be" />
<circle cx="605.1" cy="415.0" r="8.8" fill="#a8cadb" stroke="#2e2e2e" stroke-width="1"/>
<text x="604.5" y="420.1" font-size="14.5" text-anchor="middle" letter-spacing="-1.3">13</text>
<path d="M663.4,428.2 v7.3 a3.7,4 0 0 0 7.4,0 v-7.3" fill="none" stroke="#e06a25" stroke-width="2.5" />
<rect x="664.7" y="439.5" width="4.6" height="5.0" fill="#e06a25" />
<path d="M675.3,428.2 v7.3 a3.7,4 0 0 0 7.4,0 v-7.3" fill="none" stroke="#e06a25" stroke-width="2.5" />
<rect x="676.6" y="439.5" width="4.6" height="5.0" fill="#e06a25" />
<path d="M687.4,428.2 v7.3 a3.7,4 0 0 0 7.4,0 v-7.3" fill="none" stroke="#e06a25" stroke-width="2.5" />
<rect x="688.7" y="439.5" width="4.6" height="5.0" fill="#e06a25" />
<polygon points="660.2,443.3 672.0,442.0 672.8,440.1 683.8,440.9 684.6,442.9 697.9,440.1 701.0,440.9 701.8,448.7 708.9,449.8 710.5,448.0 716.7,448.7 718.3,451.9 657.1,452.7" fill="#232427" />
<polygon points="652.4,451.9 657.1,446.4 718.3,451.9 726.9,448.7 726.9,491.9 718.3,498.2 707.3,497.4 707.3,484.8 649.2,477.8 649.2,467.6 652.4,466.8" fill="#1e1f22" />
<polygon points="652.4,451.9 718.3,457.4 718.3,469.9 652.4,466.8" fill="#26272a" />
<polygon points="718.3,451.9 726.9,448.7 726.9,491.9 718.3,498.2" fill="#161719" />
<polygon points="649.2,467.6 707.3,473.9 707.3,484.8 649.2,477.8" fill="#1b1c1e" />
<polygon points="650.5,468.7 658.3,469.5 658.3,477.8 650.5,476.8" fill="#0b0b0c" />
<polygon points="653.3,473.4 658.3,470.6 658.3,477.8 653.3,477.3" fill="#2a2b2d" />
<polygon points="660.1,469.7 667.9,470.6 667.9,478.8 660.1,477.9" fill="#0b0b0c" />
<polygon points="662.9,474.4 667.9,471.6 667.9,478.8 662.9,478.3" fill="#2a2b2d" />
<polygon points="669.6,470.8 677.5,471.6 677.5,479.9 669.6,478.9" fill="#0b0b0c" />
<polygon points="672.5,475.5 677.5,472.6 677.5,479.9 672.5,479.4" fill="#2a2b2d" />
<polygon points="679.2,471.8 687.1,472.7 687.1,480.9 679.2,480.0" fill="#0b0b0c" />
<polygon points="682.0,476.5 687.1,473.7 687.1,480.9 682.0,480.4" fill="#2a2b2d" />
<polygon points="688.8,472.8 696.6,473.7 696.6,481.9 688.8,481.0" fill="#0b0b0c" />
<polygon points="691.6,477.5 696.6,474.7 696.6,481.9 691.6,481.5" fill="#2a2b2d" />
<polygon points="698.4,473.9 706.2,474.7 706.2,483.0 698.4,482.0" fill="#0b0b0c" />
<polygon points="701.2,478.6 706.2,475.7 706.2,483.0 701.2,482.5" fill="#2a2b2d" />
<polygon points="711.7,493.5 715.5,494.0 715.5,496.6 711.7,496.1" fill="#ececec" />
<polygon points="621.0,500.5 639.8,490.3 648.5,491.1 649.2,493.5 658.7,494.3 661.8,491.9 672.0,492.7 674.4,496.6 679.1,497.4 681.4,495.1 699.5,497.4 695.5,506.0 693.2,545.3 687.7,560.2 675.9,560.7 655.5,556.6 641.4,542.5 627.3,539.0 624.1,531.2 621.0,518.6" fill="#2a2b29" />
<polygon points="621.0,500.5 639.8,490.3 648.5,491.1 649.2,493.5 658.7,494.3 661.8,491.9 672.0,492.7 674.4,496.6 679.1,497.4 681.4,495.1 699.5,497.4 695.5,506.0" fill="#4b4c49" />
<polygon points="621.0,500.5 695.5,506.0 692.4,534.3 624.1,524.9 621.0,518.6" fill="#3a3b39" />
<polygon points="624.1,524.9 692.4,534.3 691.6,545.3 679.1,546.1 641.4,541.4 627.3,539.0 624.1,531.2" fill="#30312f" />
<polygon points="623.3,505.3 632.0,506.0 632.0,516.2 623.3,515.5" fill="#131413" />
<polygon points="643.0,507.6 651.6,508.4 651.6,518.6 643.0,517.8" fill="#131413" />
<polygon points="664.2,510.0 672.0,510.7 672.0,520.9 664.2,520.2" fill="#131413" />
<polygon points="674.4,510.7 683.0,511.5 683.0,522.5 674.4,521.7" fill="#131413" />
<polygon points="653.2,503.7 661.8,504.5 661.8,521.7 653.2,520.9" fill="#2c2d2b" />
<polygon points="653.2,519.4 661.8,520.2 661.8,522.5 653.2,521.7" fill="#121312" />
<polygon points="657.1,500.5 664.2,496.6 672.8,497.4 665.7,501.6" fill="#30312f" />
<path d="M641.4,539.0 A23,21 0 0 0 687.7,550.0 L673.6,542.9 A9.5,9.5 0 0 1 655.2,539.8 Z" fill="#353634"/>
<path d="M655.2,537.4 A9.3,9.3 0 0 0 673.6,540.6 Z" fill="#fbfbfb"/>
<circle cx="737.9" cy="440.1" r="8.8" fill="#a8cadb" stroke="#2e2e2e" stroke-width="1"/>
<text x="737.3" y="445.2" font-size="14.5" text-anchor="middle" letter-spacing="-1.3">14</text>
<polygon points="393.5,164.5 406.5,166.0 407.0,240.0 395.0,251.5 363.5,249.0 363.0,206.0 374.5,197.0 374.5,188.0 378.0,185.0 377.5,179.5 385.0,173.0" fill="#5b6b82" />
<polygon points="363.0,206.0 375.0,197.5 376.0,250.0 363.5,249.0" fill="#54647b" />
<polygon points="363.0,206.0 375.0,197.5 385.0,199.0 375.5,207.0" fill="#4c5b70" />
<polygon points="375.0,207.0 385.0,199.0 385.0,251.0 376.0,250.0" fill="#576880" />
<polygon points="374.5,188.0 385.0,188.0 385.0,202.0 374.5,197.0" fill="#54647b" />
<polygon points="377.5,179.5 385.0,173.0 396.0,174.5 396.0,184.0 390.0,185.0 378.0,185.0" fill="#64758c" />
<polygon points="379.0,182.0 390.0,182.5 390.0,185.0 379.0,184.5" fill="#3e4b5c" />
<polygon points="389.5,169.0 393.5,165.0 399.0,165.8 398.0,174.0 389.5,173.5" fill="#46556a" />
<polygon points="390.5,170.0 397.5,170.6 397.5,173.5 390.5,173.0" fill="#6b7c93" />
<circle cx="380.5" cy="195.0" r="5.1" fill="#6f8198" />
<circle cx="380.8" cy="195.2" r="4.4" fill="#2a3443" />
<circle cx="379.9" cy="194.7" r="2.8" fill="#3a4659" />
<circle cx="369.0" cy="219.0" r="5.7" fill="#6f8198" />
<circle cx="369.3" cy="219.2" r="5.0" fill="#2a3443" />
<circle cx="368.4" cy="218.7" r="3.4" fill="#3a4659" />
<circle cx="369.0" cy="238.8" r="5.7" fill="#6f8198" />
<circle cx="369.3" cy="239.0" r="5.0" fill="#2a3443" />
<circle cx="368.4" cy="238.5" r="3.4" fill="#3a4659" />
<polygon points="388.0,216.0 395.0,215.0 395.0,223.0 388.0,222.0" fill="#4a596d" />
<polygon points="393.0,239.0 397.0,238.0 397.0,242.0 393.0,243.0" fill="#4a596d" />
<path d="M395.5,199.0 V208.0" fill="none" stroke="#4a596d" stroke-width="0.7" />
<circle cx="407.2" cy="186.0" r="0.9" fill="#2f3b4d" />
<circle cx="407.2" cy="217.5" r="0.9" fill="#2f3b4d" />
<polygon points="380.0,249.0 395.0,250.0 393.0,252.5 380.0,251.5" fill="#2f3a49" />
<circle cx="414.2" cy="157.0" r="8.8" fill="#f8c9a4" stroke="#2e2e2e" stroke-width="1"/>
<text x="414.2" y="162.1" font-size="14.5" text-anchor="middle">2</text>
<polygon points="856.5,219.7 868.5,222.7 868.5,293.9 855.0,307.4 837.7,307.4 837.7,264.0 849.7,252.0 849.7,229.5" fill="#434f60" />
<polygon points="826.5,261.7 837.0,250.5 837.0,239.2 849.7,238.5 849.7,252.0 838.2,264.3 838.2,307.7 826.5,305.6" fill="#536379" />
<polygon points="826.5,261.7 837.0,250.5 837.0,252.0 827.7,262.5 827.7,305.9 826.5,305.6" fill="#6a7c94" />
<polygon points="837.0,239.2 837.7,236.2 842.2,231.7 847.5,230.2 850.5,228.3 856.5,219.7 859.2,220.5 859.2,230.2 856.5,238.8 849.7,238.5" fill="#5a6b82" />
<polygon points="848.2,228.3 856.5,225.0 859.2,225.7 859.2,230.2 855.0,231.7 848.2,231.0" fill="#37424f" />
<polygon points="837.7,236.2 842.2,231.7 855.0,232.8 854.7,235.8 850.5,240.0 837.7,238.8" fill="#64758c" />
<polygon points="844.5,240.0 854.7,235.8 855.0,237.7 844.8,242.1" fill="#2f3945" />
<circle cx="843.0" cy="251.7" r="5.8" fill="#7a8ca3" />
<circle cx="843.2" cy="251.9" r="5.2" fill="#0f1216" />
<circle cx="832.5" cy="274.8" r="6.1" fill="#7a8ca3" />
<circle cx="832.7" cy="275.0" r="5.5" fill="#0f1216" />
<circle cx="832.5" cy="295.4" r="6.1" fill="#7a8ca3" />
<circle cx="832.7" cy="295.6" r="5.5" fill="#0f1216" />
<rect x="827.7" y="269.7" width="2.4" height="1.2" fill="#9fb0c4" />
<rect x="834.0" y="270.1" width="2.4" height="1.2" fill="#9fb0c4" />
<rect x="827.7" y="283.1" width="2.4" height="1.2" fill="#9fb0c4" />
<rect x="834.0" y="283.6" width="2.4" height="1.2" fill="#9fb0c4" />
<rect x="827.7" y="288.2" width="2.4" height="1.2" fill="#9fb0c4" />
<rect x="834.0" y="288.7" width="2.4" height="1.2" fill="#9fb0c4" />
<rect x="827.7" y="301.1" width="2.4" height="1.2" fill="#9fb0c4" />
<rect x="834.0" y="301.6" width="2.4" height="1.2" fill="#9fb0c4" />
<polygon points="844.5,299.9 850.5,295.4 850.5,299.9 846.0,304.4" fill="#2a333f" />
<polygon points="855.7,299.2 858.0,296.9 858.0,301.4 855.7,303.7" fill="#2a333f" />
<circle cx="872.5" cy="209.4" r="8.8" fill="#f8c9a4" stroke="#2e2e2e" stroke-width="1"/>
<text x="872.5" y="214.5" font-size="14.5" text-anchor="middle">2</text>
<g transform="translate(-110.5,-13.8)">
<polygon points="229.4,283.1 260.4,252.8 267.1,250.1 268.4,252.4 326.3,255.1 328.3,253.2 332.7,253.9 331.7,297.9 308.8,326.1 294.0,341.6 294.0,290.5" fill="#1b1c1f" />
<polygon points="229.4,283.1 260.4,252.8 331.7,255.9 294.0,290.5" fill="#2e2f33" />
<polygon points="276.5,251.4 284.6,251.8 283.8,253.7 275.7,253.3" fill="#e0352b" />
<polygon points="288.6,252.8 296.7,253.2 295.9,255.1 287.8,254.7" fill="#e0352b" />
<polygon points="300.7,254.5 314.2,254.9 313.4,256.8 299.9,256.4" fill="#e0352b" />
<polygon points="283.2,255.1 290.0,255.3 289.3,256.8 282.6,256.5" fill="#0d0d0e" />
<polygon points="294.0,290.5 331.7,255.9 331.7,258.2 294.0,293.1" fill="#252629" />
<polygon points="314.8,280.4 316.6,278.7 316.6,284.4 314.8,286.0" fill="#0e0f10" />
<polygon points="314.8,301.2 316.6,299.6 316.6,305.9 314.8,307.5" fill="#0e0f10" />
<polygon points="300.7,289.1 302.7,287.8 302.7,289.8 300.7,291.1" fill="#0e0f10" />
<polygon points="295.3,319.4 309.5,303.2 309.5,326.1 295.3,340.2" fill="#48505e" />
<polygon points="229.4,283.1 294.0,290.5 294.0,341.6 230.1,334.8" fill="#465874" />
<polygon points="229.4,283.1 294.0,290.5 294.0,292.2 229.4,284.8" fill="#6e829e" />
<polygon points="229.4,283.1 230.8,283.2 231.4,335.0 230.1,334.8" fill="#5d7190" />
<polygon points="232.1,315.6 290.0,322.3 290.0,325.0 232.1,317.8" fill="#14171c" />
<polygon points="230.8,317.8 293.3,325.3 293.3,327.4 230.8,319.9" fill="#33435b" />
<circle cx="235.5" cy="325.4" r="4.2" fill="#15181d" />
<circle cx="235.8" cy="325.2" r="2.3" fill="#aeb4bc" />
<path d="M234.5,324.5 l2.6,1.4" fill="none" stroke="#3b3f45" stroke-width="0.9" />
<circle cx="246.2" cy="326.8" r="4.2" fill="#15181d" />
<circle cx="246.5" cy="326.6" r="2.3" fill="#aeb4bc" />
<path d="M245.2,325.9 l2.6,1.4" fill="none" stroke="#3b3f45" stroke-width="0.9" />
<circle cx="256.3" cy="327.7" r="4.2" fill="#15181d" />
<circle cx="256.6" cy="327.5" r="2.3" fill="#aeb4bc" />
<path d="M255.3,326.8 l2.6,1.4" fill="none" stroke="#3b3f45" stroke-width="0.9" />
<circle cx="267.1" cy="328.8" r="4.2" fill="#15181d" />
<circle cx="267.4" cy="328.6" r="2.3" fill="#aeb4bc" />
<path d="M266.1,327.9 l2.6,1.4" fill="none" stroke="#3b3f45" stroke-width="0.9" />
<circle cx="277.2" cy="329.9" r="4.2" fill="#15181d" />
<circle cx="277.5" cy="329.7" r="2.3" fill="#aeb4bc" />
<path d="M276.2,329.0 l2.6,1.4" fill="none" stroke="#3b3f45" stroke-width="0.9" />
<circle cx="287.3" cy="331.2" r="4.2" fill="#15181d" />
<circle cx="287.6" cy="331.0" r="2.3" fill="#aeb4bc" />
<path d="M286.3,330.3 l2.6,1.4" fill="none" stroke="#3b3f45" stroke-width="0.9" />
<polygon points="250.3,312.0 271.8,314.4 271.8,320.7 250.3,318.3" fill="#36a79d" />
<text x="261.0" y="319.0" font-size="5.6" font-weight="bold" fill="#f2fbfa" text-anchor="middle" transform="rotate(6.5 261.0 317.8)" textLength="19.5" lengthAdjust="spacingAndGlyphs">SIEMENS</text>
<text x="281.2" y="321.4" font-size="6.6" fill="#8196b3" text-anchor="middle" transform="rotate(6.5 281.2 320.0)" textLength="15.5" lengthAdjust="spacingAndGlyphs">SIRIUS</text>
<polygon points="231.8,285.7 260.4,289.1 260.4,298.5 231.8,295.2" fill="none" stroke="#33425a" stroke-width="0.9"/>
<polygon points="260.4,290.5 261.4,290.6 261.4,299.2 260.4,299.1" fill="#2a3548" />
<polygon points="256.6,301.2 261.7,301.8 261.7,303.9 256.6,303.4" fill="#f4f4f4" />
<polygon points="251.2,306.2 273.8,308.7 273.8,309.6 251.2,307.0" fill="#7a8ca6" />
<polygon points="254.7,309.6 266.4,310.9 266.4,311.7 254.7,310.4" fill="#7a8ca6" />
<polygon points="281.2,293.5 287.7,294.2 287.7,295.7 281.2,295.0" fill="#0e0f11" />
<polygon points="230.8,309.3 232.4,309.4 232.4,312.6 230.8,312.5" fill="#10131a" />
<polygon points="289.7,316.7 291.3,316.8 291.3,320.0 289.7,319.9" fill="#10131a" />
<polygon points="233.5,294.1 236.4,294.4 236.4,297.0 233.5,296.7" fill="#e9edf2" />
<polygon points="238.8,294.1 241.8,294.4 241.8,297.0 238.8,296.7" fill="#e9edf2" />
<polygon points="243.1,295.4 252.3,296.5 252.3,298.1 243.1,297.0" fill="#7a8ca6" />
<polygon points="246.9,267.6 259.0,256.1 264.4,253.5 273.1,254.5 271.1,258.8 276.5,260.2 264.4,266.2 256.3,271.6" fill="#101113" />
<polygon points="259.0,256.1 264.4,253.5 273.1,254.5 268.4,257.8" fill="#3b3d41" />
<polygon points="248.9,267.6 255.7,262.2 263.1,263.1 256.6,268.8" fill="#2a2b2e" />
<polygon points="287.3,273.0 299.4,261.5 304.8,258.8 313.5,259.9 311.5,264.2 316.9,265.6 304.8,271.6 296.7,277.0" fill="#101113" />
<polygon points="299.4,261.5 304.8,258.8 313.5,259.9 308.8,263.1" fill="#3b3d41" />
<polygon points="289.3,273.0 296.0,267.6 303.4,268.5 297.0,274.2" fill="#2a2b2e" />
</g>
<g transform="translate(0,0)">
<polygon points="229.4,283.1 260.4,252.8 267.1,250.1 268.4,252.4 326.3,255.1 328.3,253.2 332.7,253.9 331.7,297.9 308.8,326.1 294.0,341.6 294.0,290.5" fill="#1b1c1f" />
<polygon points="229.4,283.1 260.4,252.8 331.7,255.9 294.0,290.5" fill="#2e2f33" />
<polygon points="276.5,251.4 284.6,251.8 283.8,253.7 275.7,253.3" fill="#e0352b" />
<polygon points="288.6,252.8 296.7,253.2 295.9,255.1 287.8,254.7" fill="#e0352b" />
<polygon points="300.7,254.5 314.2,254.9 313.4,256.8 299.9,256.4" fill="#e0352b" />
<polygon points="283.2,255.1 290.0,255.3 289.3,256.8 282.6,256.5" fill="#0d0d0e" />
<polygon points="294.0,290.5 331.7,255.9 331.7,258.2 294.0,293.1" fill="#252629" />
<polygon points="314.8,280.4 316.6,278.7 316.6,284.4 314.8,286.0" fill="#0e0f10" />
<polygon points="314.8,301.2 316.6,299.6 316.6,305.9 314.8,307.5" fill="#0e0f10" />
<polygon points="300.7,289.1 302.7,287.8 302.7,289.8 300.7,291.1" fill="#0e0f10" />
<polygon points="295.3,319.4 309.5,303.2 309.5,326.1 295.3,340.2" fill="#48505e" />
<polygon points="229.4,283.1 294.0,290.5 294.0,341.6 230.1,334.8" fill="#465874" />
<polygon points="229.4,283.1 294.0,290.5 294.0,292.2 229.4,284.8" fill="#6e829e" />
<polygon points="229.4,283.1 230.8,283.2 231.4,335.0 230.1,334.8" fill="#5d7190" />
<polygon points="232.1,315.6 290.0,322.3 290.0,325.0 232.1,317.8" fill="#14171c" />
<polygon points="230.8,317.8 293.3,325.3 293.3,327.4 230.8,319.9" fill="#33435b" />
<circle cx="235.5" cy="325.4" r="4.2" fill="#15181d" />
<circle cx="235.8" cy="325.2" r="2.3" fill="#aeb4bc" />
<path d="M234.5,324.5 l2.6,1.4" fill="none" stroke="#3b3f45" stroke-width="0.9" />
<circle cx="246.2" cy="326.8" r="4.2" fill="#15181d" />
<circle cx="246.5" cy="326.6" r="2.3" fill="#aeb4bc" />
<path d="M245.2,325.9 l2.6,1.4" fill="none" stroke="#3b3f45" stroke-width="0.9" />
<circle cx="256.3" cy="327.7" r="4.2" fill="#15181d" />
<circle cx="256.6" cy="327.5" r="2.3" fill="#aeb4bc" />
<path d="M255.3,326.8 l2.6,1.4" fill="none" stroke="#3b3f45" stroke-width="0.9" />
<circle cx="267.1" cy="328.8" r="4.2" fill="#15181d" />
<circle cx="267.4" cy="328.6" r="2.3" fill="#aeb4bc" />
<path d="M266.1,327.9 l2.6,1.4" fill="none" stroke="#3b3f45" stroke-width="0.9" />
<circle cx="277.2" cy="329.9" r="4.2" fill="#15181d" />
<circle cx="277.5" cy="329.7" r="2.3" fill="#aeb4bc" />
<path d="M276.2,329.0 l2.6,1.4" fill="none" stroke="#3b3f45" stroke-width="0.9" />
<circle cx="287.3" cy="331.2" r="4.2" fill="#15181d" />
<circle cx="287.6" cy="331.0" r="2.3" fill="#aeb4bc" />
<path d="M286.3,330.3 l2.6,1.4" fill="none" stroke="#3b3f45" stroke-width="0.9" />
<polygon points="250.3,312.0 271.8,314.4 271.8,320.7 250.3,318.3" fill="#36a79d" />
<text x="261.0" y="319.0" font-size="5.6" font-weight="bold" fill="#f2fbfa" text-anchor="middle" transform="rotate(6.5 261.0 317.8)" textLength="19.5" lengthAdjust="spacingAndGlyphs">SIEMENS</text>
<text x="281.2" y="321.4" font-size="6.6" fill="#8196b3" text-anchor="middle" transform="rotate(6.5 281.2 320.0)" textLength="15.5" lengthAdjust="spacingAndGlyphs">SIRIUS</text>
<polygon points="231.8,285.7 260.4,289.1 260.4,298.5 231.8,295.2" fill="none" stroke="#33425a" stroke-width="0.9"/>
<polygon points="260.4,290.5 261.4,290.6 261.4,299.2 260.4,299.1" fill="#2a3548" />
<polygon points="256.6,301.2 261.7,301.8 261.7,303.9 256.6,303.4" fill="#f4f4f4" />
<polygon points="251.2,306.2 273.8,308.7 273.8,309.6 251.2,307.0" fill="#7a8ca6" />
<polygon points="254.7,309.6 266.4,310.9 266.4,311.7 254.7,310.4" fill="#7a8ca6" />
<polygon points="281.2,293.5 287.7,294.2 287.7,295.7 281.2,295.0" fill="#0e0f11" />
<polygon points="230.8,309.3 232.4,309.4 232.4,312.6 230.8,312.5" fill="#10131a" />
<polygon points="289.7,316.7 291.3,316.8 291.3,320.0 289.7,319.9" fill="#10131a" />
<circle cx="270.9" cy="298.1" r="4.7" fill="#34435c" stroke="#1c2433" stroke-width="1"/>
<circle cx="270.9" cy="298.1" r="3.0" fill="#3f506b" stroke="#8ea1bc" stroke-width="0.5"/>
<path d="M268.9,298.1 h4 M270.9,296.1 v4" fill="none" stroke="#1c2433" stroke-width="0.8" />
<circle cx="284.8" cy="304.2" r="4.7" fill="#34435c" stroke="#1c2433" stroke-width="1"/>
<circle cx="284.8" cy="304.2" r="3.0" fill="#3f506b" stroke="#8ea1bc" stroke-width="0.5"/>
<path d="M282.8,304.2 h4 M284.8,302.2 v4" fill="none" stroke="#1c2433" stroke-width="0.8" />
</g>
<polygon points="396.8,328.1 413.6,313.5 418.1,313.5 422.6,309.0 428.0,309.6 427.0,313.0 424.8,317.0 424.8,339.0 426.5,339.0 426.5,346.0 424.8,347.0 424.8,354.5 408.9,368.5 408.9,329.8" fill="#242528" />
<polygon points="396.8,328.1 413.6,313.5 418.1,313.5 422.6,309.0 428.0,309.6 424.8,317.0 408.9,329.8" fill="#323337" />
<polygon points="396.8,328.1 408.9,329.8 408.9,368.5 396.8,367.4" fill="#4b6288" />
<polygon points="396.8,328.1 398.3,328.3 398.3,367.5 396.8,367.4" fill="#6c83a8" />
<polygon points="411.0,334.0 421.0,326.0 421.0,322.5 411.0,330.5" fill="#0e0f10" />
<circle cx="402.2" cy="339.0" r="1.9" fill="#f2c40f" />
<circle cx="438.0" cy="356.4" r="8.8" fill="#a8cadb" stroke="#2e2e2e" stroke-width="1"/>
<text x="438.0" y="361.5" font-size="14.5" text-anchor="middle">8</text>
<polygon points="2.4,372.7 3.0,369.0 18.8,354.6 22.5,352.5 25.0,355.0 33.5,356.0 35.0,352.2 39.5,352.6 40.5,356.8 52.6,358.5 52.6,397.8 35.3,410.3 35.3,376.1" fill="#1d1e21" />
<polygon points="3.0,369.0 18.8,354.6 52.6,358.5 35.3,373.0" fill="#2a2b2e" />
<polygon points="16.5,370.4 31.0,356.5 33.5,356.8 20.5,371.0" fill="#111214" />
<polygon points="3.0,369.0 35.3,373.0 35.3,376.1 2.4,372.7" fill="#313c4b" />
<polygon points="2.4,372.7 35.3,376.1 35.3,410.3 2.4,406.4" fill="#465873" />
<polygon points="2.4,372.7 35.3,376.1 35.3,377.4 2.4,374.0" fill="#6f839d" />
<polygon points="8.6,367.6 16.5,368.5 16.5,372.9 8.6,372.0" fill="#5c82bd" />
<polygon points="25.8,369.7 33.7,370.6 33.7,375.0 25.8,374.1" fill="#5c82bd" />
<polygon points="3.6,394.5 33.8,397.9 33.8,408.5 3.6,405.0" fill="none" stroke="#34435a" stroke-width="0.8"/>
<circle cx="7.8" cy="384.4" r="5.0" fill="#5f7390" />
<circle cx="8.0" cy="384.6" r="4.3" fill="#0d0f12" />
<circle cx="25.9" cy="386.8" r="5.0" fill="#5f7390" />
<circle cx="26.1" cy="387.0" r="4.3" fill="#0d0f12" />
<rect x="15.7" y="389.2" width="2.6" height="4.6" fill="#12141a" />
<rect x="6.0" y="378.0" width="2.6" height="1.2" fill="#a8b7ca" />
<rect x="15.0" y="379.0" width="2.6" height="1.2" fill="#a8b7ca" />
<rect x="24.5" y="380.0" width="2.6" height="1.2" fill="#a8b7ca" />
<rect x="50.3" y="374.0" width="1.4" height="5.0" fill="#0c0c0d" />
<circle cx="16.5" cy="342.8" r="8.8" fill="#f8c9a4" stroke="#2e2e2e" stroke-width="1"/>
<text x="16.5" y="347.9" font-size="14.5" text-anchor="middle">3</text>
<polygon points="115.3,376.2 136.2,355.6 136.2,406.7 115.3,424.8" fill="#1b1c1f" />
<polygon points="115.3,376.2 136.2,355.6 136.2,358.3 115.3,379.3" fill="#242528" />
<polygon points="132.8,372.4 134.3,370.9 134.3,376.2 132.8,377.7" fill="#0b0b0c" />
<polygon points="132.8,390.5 134.3,389.0 134.3,394.3 132.8,395.8" fill="#0b0b0c" />
<polygon points="65.7,372.8 65.7,368.6 68.0,371.4 88.6,359.1 110.5,360.6 111.1,356.4 115.3,356.8 115.7,361.0 130.9,361.3 115.3,376.2" fill="#1a1b1d" />
<polygon points="67.6,372.4 77.5,362.9 86.7,363.6 78.7,373.2" fill="#2b2c2f" />
<polygon points="77.5,362.9 86.7,363.6 85.9,365.2 77.2,364.4" fill="#0e0f10" />
<polygon points="75.2,370.5 78.7,370.9 78.7,373.2 75.2,372.8" fill="#101113" />
<polygon points="80.0,373.3 89.9,363.7 99.1,364.5 91.1,374.0" fill="#2b2c2f" />
<polygon points="89.9,363.7 99.1,364.5 98.3,366.0 89.5,365.3" fill="#0e0f10" />
<polygon points="87.6,371.4 91.1,371.7 91.1,374.0 87.6,373.6" fill="#101113" />
<polygon points="92.8,374.1 102.7,364.6 111.8,365.3 103.8,374.9" fill="#2b2c2f" />
<polygon points="102.7,364.6 111.8,365.3 111.1,366.9 102.3,366.1" fill="#0e0f10" />
<polygon points="100.4,372.2 103.8,372.6 103.8,374.9 100.4,374.5" fill="#101113" />
<polygon points="105.4,375.0 115.3,365.4 124.4,366.2 116.4,375.7" fill="#2b2c2f" />
<polygon points="115.3,365.4 124.4,366.2 123.7,367.7 114.9,367.0" fill="#0e0f10" />
<polygon points="113.0,373.1 116.4,373.4 116.4,375.7 113.0,375.4" fill="#101113" />
<polygon points="65.7,368.6 87.6,349.5 88.6,359.1 68.0,372.0" fill="#151618" />
<polygon points="65.7,368.6 87.6,349.5 88.2,351.4 66.9,370.1" fill="#2a2b2e" />
<polygon points="65.7,372.8 115.3,376.2 115.3,424.8 65.7,416.2" fill="#465873" />
<polygon points="65.7,372.8 115.3,376.2 115.3,377.7 65.7,374.3" fill="#6c819c" />
<polygon points="113.9,376.2 115.3,376.2 115.3,424.8 113.9,424.6" fill="#394960" />
<polygon points="68.0,390.5 94.3,392.6 94.3,402.5 68.0,400.4" fill="none" stroke="#34435a" stroke-width="0.8"/>
<polygon points="96.2,393.7 111.8,395.1 111.8,404.4 96.2,403.1" fill="none" stroke="#26313f" stroke-width="0.9"/>
<polygon points="101.9,397.2 109.9,397.9 109.9,401.0 101.9,400.2" fill="#f6f6f6" stroke="#1a1a1a" stroke-width="0.7"/>
<circle cx="72.4" cy="406.7" r="5.0" fill="#5f7390" />
<circle cx="72.6" cy="406.9" r="4.3" fill="#0d0f12" />
<rect x="70.9" y="413.9" width="5.5" height="1.3" fill="#9fb0c6" />
<rect x="70.4" y="418.5" width="2.4" height="3.5" fill="#1b1c1f" />
<circle cx="83.8" cy="407.7" r="5.0" fill="#5f7390" />
<circle cx="84.0" cy="407.9" r="4.3" fill="#0d0f12" />
<rect x="82.3" y="414.9" width="5.5" height="1.3" fill="#9fb0c6" />
<rect x="81.8" y="419.5" width="2.4" height="3.5" fill="#1b1c1f" />
<circle cx="95.8" cy="408.8" r="5.0" fill="#5f7390" />
<circle cx="96.0" cy="409.0" r="4.3" fill="#0d0f12" />
<rect x="94.3" y="416.0" width="5.5" height="1.3" fill="#9fb0c6" />
<rect x="93.8" y="420.6" width="2.4" height="3.5" fill="#1b1c1f" />
<circle cx="107.6" cy="410.1" r="5.0" fill="#5f7390" />
<circle cx="107.8" cy="410.3" r="4.3" fill="#0d0f12" />
<rect x="106.1" y="417.4" width="5.5" height="1.3" fill="#9fb0c6" />
<rect x="105.6" y="422.0" width="2.4" height="3.5" fill="#1b1c1f" />
<circle cx="82.1" cy="340.2" r="8.8" fill="#f8c9a4" stroke="#2e2e2e" stroke-width="1"/>
<text x="82.1" y="345.3" font-size="14.5" text-anchor="middle">4</text>
<polygon points="201.0,386.9 222.0,366.3 222.0,417.8 201.0,433.0" fill="#1b1c1f" />
<polygon points="201.0,386.9 222.0,366.3 222.0,369.0 201.0,389.9" fill="#242528" />
<polygon points="218.6,383.1 220.1,381.5 220.1,386.9 218.6,388.4" fill="#0b0b0c" />
<polygon points="218.6,401.2 220.1,399.7 220.1,405.0 218.6,406.5" fill="#0b0b0c" />
<polygon points="151.5,383.5 151.5,379.3 153.8,382.1 174.4,369.7 196.3,371.3 196.8,367.1 201.0,367.4 201.4,371.6 216.7,372.0 201.0,386.9" fill="#1a1b1d" />
<polygon points="153.4,383.1 163.3,373.5 172.4,374.3 164.4,383.8" fill="#2b2c2f" />
<polygon points="163.3,373.5 172.4,374.3 171.7,375.8 162.9,375.1" fill="#0e0f10" />
<polygon points="161.0,381.2 164.4,381.5 164.4,383.8 161.0,383.5" fill="#101113" />
<polygon points="165.8,383.9 175.7,374.4 184.8,375.2 176.8,384.7" fill="#2b2c2f" />
<polygon points="175.7,374.4 184.8,375.2 184.1,376.7 175.3,375.9" fill="#0e0f10" />
<polygon points="173.4,382.0 176.8,382.4 176.8,384.7 173.4,384.3" fill="#101113" />
<polygon points="178.5,384.8 188.5,375.3 197.6,376.0 189.6,385.5" fill="#2b2c2f" />
<polygon points="188.5,375.3 197.6,376.0 196.8,377.5 188.1,376.8" fill="#0e0f10" />
<polygon points="186.2,382.9 189.6,383.3 189.6,385.5 186.2,385.2" fill="#101113" />
<polygon points="191.1,385.6 201.0,376.1 210.2,376.9 202.2,386.4" fill="#2b2c2f" />
<polygon points="201.0,376.1 210.2,376.9 209.4,378.4 200.7,377.6" fill="#0e0f10" />
<polygon points="198.7,383.7 202.2,384.1 202.2,386.4 198.7,386.0" fill="#101113" />
<polygon points="151.5,379.3 173.4,360.2 174.4,369.7 153.8,382.7" fill="#151618" />
<polygon points="151.5,379.3 173.4,360.2 174.0,362.1 152.6,380.8" fill="#2a2b2e" />
<polygon points="151.5,383.5 201.0,386.9 201.0,433.0 151.5,424.4" fill="#465873" />
<polygon points="151.5,383.5 201.0,386.9 201.0,388.4 151.5,385.0" fill="#6c819c" />
<polygon points="199.7,386.9 201.0,386.9 201.0,433.0 199.7,432.8" fill="#394960" />
<polygon points="182.0,405.8 196.8,407.1 196.8,415.9 182.0,414.5" fill="none" stroke="#26313f" stroke-width="0.9"/>
<polygon points="186.7,409.6 194.4,410.3 194.4,413.4 186.7,412.6" fill="#f6f6f6" stroke="#1a1a1a" stroke-width="0.7"/>
<polygon points="153.0,405.8 180.1,408.0 180.1,415.9 153.0,413.6" fill="none" stroke="#34435a" stroke-width="0.8"/>
<circle cx="157.2" cy="395.3" r="5.2" fill="#5f7390" />
<circle cx="157.4" cy="395.5" r="4.5" fill="#0d0f12" />
<rect x="154.5" y="388.8" width="5.5" height="1.3" fill="#9fb0c6" />
<circle cx="169.0" cy="396.8" r="5.2" fill="#5f7390" />
<circle cx="169.2" cy="397.0" r="4.5" fill="#0d0f12" />
<rect x="166.3" y="390.3" width="5.5" height="1.3" fill="#9fb0c6" />
<circle cx="180.6" cy="398.3" r="5.2" fill="#5f7390" />
<circle cx="180.8" cy="398.5" r="4.5" fill="#0d0f12" />
<rect x="178.0" y="391.8" width="5.5" height="1.3" fill="#9fb0c6" />
<circle cx="192.5" cy="399.8" r="5.2" fill="#5f7390" />
<circle cx="192.7" cy="400.0" r="4.5" fill="#0d0f12" />
<circle cx="157.2" cy="418.1" r="5.2" fill="#5f7390" />
<circle cx="157.4" cy="418.3" r="4.5" fill="#0d0f12" />
<rect x="154.5" y="423.9" width="5.5" height="1.3" fill="#9fb0c6" />
<circle cx="169.0" cy="419.7" r="5.2" fill="#5f7390" />
<circle cx="169.2" cy="419.9" r="4.5" fill="#0d0f12" />
<rect x="166.3" y="425.4" width="5.5" height="1.3" fill="#9fb0c6" />
<circle cx="180.6" cy="421.2" r="5.2" fill="#5f7390" />
<circle cx="180.8" cy="421.4" r="4.5" fill="#0d0f12" />
<rect x="178.0" y="426.9" width="5.5" height="1.3" fill="#9fb0c6" />
<circle cx="192.5" cy="422.7" r="5.2" fill="#5f7390" />
<circle cx="192.7" cy="422.9" r="4.5" fill="#0d0f12" />
<rect x="155.7" y="425.0" width="2.4" height="3.5" fill="#1b1c1f" />
<rect x="167.7" y="426.4" width="2.4" height="3.5" fill="#1b1c1f" />
<rect x="179.7" y="427.9" width="2.4" height="3.5" fill="#1b1c1f" />
<rect x="191.1" y="429.3" width="2.4" height="3.5" fill="#1b1c1f" />
<circle cx="167.3" cy="348.6" r="8.8" fill="#f8c9a4" stroke="#2e2e2e" stroke-width="1"/>
<text x="167.3" y="353.7" font-size="14.5" text-anchor="middle">5</text>
<polygon points="119.5,482.2 152.1,486.6 152.7,508.1 119.5,504.7" fill="#dedad3" />
<polygon points="119.5,482.2 152.1,486.6 152.1,488.0 119.5,483.6" fill="#e9e6e0" />
<path d="M126.5,484.6 L148.5,487.6" fill="none" stroke="#4a4a4a" stroke-width="2.2" stroke-linecap="round"/>
<path d="M123.5,489.3 L143.8,492.6" fill="none" stroke="#333435" stroke-width="5.4" stroke-linecap="round"/>
<path d="M143.8,492.6 L148.5,487.8" fill="none" stroke="#3c3c3d" stroke-width="2.6" stroke-linecap="round"/>
<path d="M130.5,494.6 V503 M147,496.5 V504.6" fill="none" stroke="#b3b4bb" stroke-width="0.9" />
<circle cx="119.0" cy="470.4" r="8.8" fill="#f8c9a4" stroke="#2e2e2e" stroke-width="1"/>
<text x="119.0" y="475.5" font-size="14.5" text-anchor="middle">9</text>
<text x="0" y="0" font-size="9" fill="#1a1a1a" stroke="#1a1a1a" stroke-width="0.25" transform="translate(877.6,291.3) rotate(-90)" textLength="47.5" lengthAdjust="spacingAndGlyphs">IC01_00614f</text>
<circle cx="552.8" cy="158.2" r="8.8" fill="#ffffff" stroke="#2e2e2e" stroke-width="1"/>
<text x="552.8" y="163.3" font-size="14.5" text-anchor="middle">1</text>
<circle cx="794.5" cy="190.7" r="8.8" fill="#ffffff" stroke="#2e2e2e" stroke-width="1"/>
<text x="794.5" y="195.8" font-size="14.5" text-anchor="middle">1</text>
<circle cx="153.8" cy="225.2" r="8.8" fill="#f8c9a4" stroke="#2e2e2e" stroke-width="1"/>
<text x="153.8" y="230.3" font-size="14.5" text-anchor="middle">6</text>
<circle cx="264.0" cy="237.8" r="8.8" fill="#f8c9a4" stroke="#2e2e2e" stroke-width="1"/>
<text x="264.0" y="242.9" font-size="14.5" text-anchor="middle">7</text>
</svg>
<div class="c" style="left:2.4px;top:579.2px;width:16.4px;height:16.4px;line-height:16.4px;background:#ffffff;font-size:13px;letter-spacing:0;">1</div><div class="t" style="left:25.3px;top:579.5px;font-size:13px;">Contattore, grandezza costruttiva S00</div><div class="c" style="left:2.4px;top:610.8px;width:16.4px;height:16.4px;line-height:16.4px;background:#f8c9a4;font-size:13px;letter-spacing:0;">2</div><div class="t" style="left:25.3px;top:611.1px;font-size:13px;">Blocchetto di contatti ausiliari a 2 poli, montabile lateralmente</div><div class="c" style="left:2.4px;top:631.4px;width:16.4px;height:16.4px;line-height:16.4px;background:#f8c9a4;font-size:13px;letter-spacing:0;">3</div><div class="t" style="left:25.3px;top:631.7px;font-size:13px;">Blocchetto di contatti ausiliari a 1 polo, innestabile a scatto frontalmente,</div><div class="t" style="left:25.3px;top:646.2px;font-size:13px;">ingresso cavi dall'alto</div><div class="c" style="left:2.4px;top:667.0px;width:16.4px;height:16.4px;line-height:16.4px;background:#f8c9a4;font-size:13px;letter-spacing:0;">4</div><div class="t" style="left:25.3px;top:667.3px;font-size:13px;">Blocchetto di contatti ausiliari a 2 poli, innestabile a scatto frontalmente,</div><div class="t" style="left:25.3px;top:681.8px;font-size:13px;">ingresso cavi dal basso</div><div class="c" style="left:2.4px;top:702.0px;width:16.4px;height:16.4px;line-height:16.4px;background:#f8c9a4;font-size:13px;letter-spacing:0;">5</div><div class="t" style="left:25.3px;top:702.3px;font-size:13px;">Blocchetto di contatti ausiliari a 4 poli, innestabile a scatto frontalmente</div><div class="c" style="left:2.4px;top:722.5px;width:16.4px;height:16.4px;line-height:16.4px;background:#f8c9a4;font-size:13px;letter-spacing:0;">6</div><div class="t" style="left:25.3px;top:722.8px;font-size:13px;">Modulo funzionale 3RA27 per IO-Link</div><div class="c" style="left:2.4px;top:743.0px;width:16.4px;height:16.4px;line-height:16.4px;background:#f8c9a4;font-size:13px;letter-spacing:0;">7</div><div class="t" style="left:25.3px;top:743.3px;font-size:13px;">Modulo funzionale 3RA28</div><div class="c" style="left:2.4px;top:763.5px;width:16.4px;height:16.4px;line-height:16.4px;background:#a7c9db;font-size:13px;letter-spacing:0;">8</div><div class="t" style="left:25.3px;top:763.8px;font-size:13px;">Limitatore di sovratensione con/senza LED</div><div class="c" style="left:2.4px;top:783.8px;width:16.4px;height:16.4px;line-height:16.4px;background:#f8c9a4;font-size:13px;letter-spacing:0;">9</div><div class="t" style="left:25.3px;top:784.1px;font-size:13px;">Calotta di copertura piombabile</div><div class="c" style="left:2.4px;top:804.5px;width:16.4px;height:16.4px;line-height:16.4px;background:#a7c9db;font-size:13px;letter-spacing:-1.2px;padding-right:1px;">10</div><div class="t" style="left:25.3px;top:804.8px;font-size:13px;">Morsetto di alimentazione trifase</div><div class="c" style="left:471.8px;top:612.7px;width:16.4px;height:16.4px;line-height:16.4px;background:#a7c9db;font-size:13px;letter-spacing:-1.2px;padding-right:1px;">11</div><div class="t" style="left:497.3px;top:613.0px;font-size:13px;">Ponticello del centro stella, a 3 poli, senza morsetti di collegamento</div><div class="c" style="left:471.8px;top:633.3px;width:16.4px;height:16.4px;line-height:16.4px;background:#a7c9db;font-size:13px;letter-spacing:-1.2px;padding-right:1px;">12</div><div class="t" style="left:497.3px;top:633.6px;font-size:13px;">Elemento di collegamento in parallelo a 3 poli, con morsetto</div><div class="t" style="left:497.3px;top:648.3px;font-size:13px;">di collegamento</div><div class="c" style="left:471.8px;top:668.9px;width:16.4px;height:16.4px;line-height:16.4px;background:#a7c9db;font-size:13px;letter-spacing:-1.2px;padding-right:1px;">13</div><div class="t" style="left:497.3px;top:669.2px;font-size:13px;">Adattatore per attacchi a saldare</div><div class="c" style="left:471.8px;top:689.6px;width:16.4px;height:16.4px;line-height:16.4px;background:#a7c9db;font-size:13px;letter-spacing:-1.2px;padding-right:1px;">14</div><div class="t" style="left:497.3px;top:689.9px;font-size:13px;">Modulo di collegamento (adattatore e connettore) per contattori</div><div class="t" style="left:497.3px;top:704.6px;font-size:13px;">con morsetti a vite</div><div class="c" style="left:471.8px;top:724.3px;width:16.4px;height:16.4px;line-height:16.4px;background:#a7c9db;font-size:13px;letter-spacing:-1.2px;padding-right:1px;">15</div><div class="t" style="left:497.3px;top:724.6px;font-size:13px;">Modulo di collegamento per due contattori in serie</div><div class="t" style="left:471.8px;top:748.9px;font-size:13px;">Kit di montaggio 3RA2913-2AA1</div><div class="t" style="left:471.8px;top:762.9px;font-size:13px;">comprendente:</div><div class="c" style="left:496.3px;top:779.9px;width:17.8px;height:17.8px;line-height:17.8px;background:#a7c9db;font-size:13px;letter-spacing:-1.2px;padding-right:1px;">16</div><div class="t" style="left:522.6px;top:780.7px;font-size:13px;">Moduli di cablaggio superiori e inferiori per il collegamento delle</div><div class="t" style="left:522.6px;top:796.8px;font-size:13px;">vie di corrente principali e ausiliarie e dei circuiti di comando con</div><div class="t" style="left:522.6px;top:812.4px;font-size:13px;">interblocco elettrico<span class="s">1)</span>&#8202;, interrompibili (interblocco contatto NC)</div><div class="c" style="left:496.3px;top:830.2px;width:17.8px;height:17.8px;line-height:17.8px;background:#a7c9db;font-size:13px;letter-spacing:-1.2px;padding-right:1px;">17</div><div class="t" style="left:522.6px;top:830.7px;font-size:13px;">Interblocco meccanico<span class="s">2)</span></div><div class="c" style="left:496.3px;top:851.3px;width:17.8px;height:17.8px;line-height:17.8px;background:#a7c9db;font-size:13px;letter-spacing:-1.2px;padding-right:1px;">18</div><div class="t" style="left:522.6px;top:851.3px;font-size:13px;">Due clip di collegamento per due contattori<span class="s">&#8201;2)</span></div><div class="c" style="left:472.0px;top:887.7px;width:17px;height:17px;line-height:17px;background:#f8c9a4;font-size:13px;letter-spacing:0;"></div><div class="t" style="left:498px;top:888.5px;font-size:13px;">per contattori</div><div class="c" style="left:472.0px;top:907.6px;width:17px;height:17px;line-height:17px;background:#a7c9db;font-size:13px;letter-spacing:0;"></div><div class="t" style="left:498px;top:908.9px;font-size:13px;">per contattori e contattori d'interfaccia</div><div class="t" style="left:3.2px;top:909.2px;font-size:11.5px;">1)</div><div class="t" style="left:15.5px;top:913.3px;font-size:13px;">Per l'interblocco elettrico sono necessari i contattori 3RT201. con</div><div class="t" style="left:15.5px;top:929.2px;font-size:13px;">un contatto NC nell'apparecchio base. Per il comando a pulsante è</div><div class="t" style="left:15.5px;top:944.6px;font-size:13px;">necessario un contatto NO aggiuntivo.</div><div class="t" style="left:2.6px;top:963.2px;font-size:11.5px;">2)</div><div class="t" style="left:15.5px;top:967.7px;font-size:13px;">Le parti</div><div class="c" style="left:63.2px;top:966.2px;width:18.4px;height:18.4px;line-height:18.4px;background:#a7c9db;font-size:13px;letter-spacing:-1.2px;padding-right:1px;">17</div><div class="t" style="left:85.3px;top:967.7px;font-size:13px;">e</div><div class="c" style="left:95.7px;top:966.2px;width:18.4px;height:18.4px;line-height:18.4px;background:#a7c9db;font-size:13px;letter-spacing:-1.2px;padding-right:1px;">18</div><div class="t" style="left:117.6px;top:967.7px;font-size:13px;">sono ordinabili solo insieme come connettore</div><div class="t" style="left:15.5px;top:982.6px;font-size:13px;">meccanico 3RA2912-2H.</div>
</div></body></html>
